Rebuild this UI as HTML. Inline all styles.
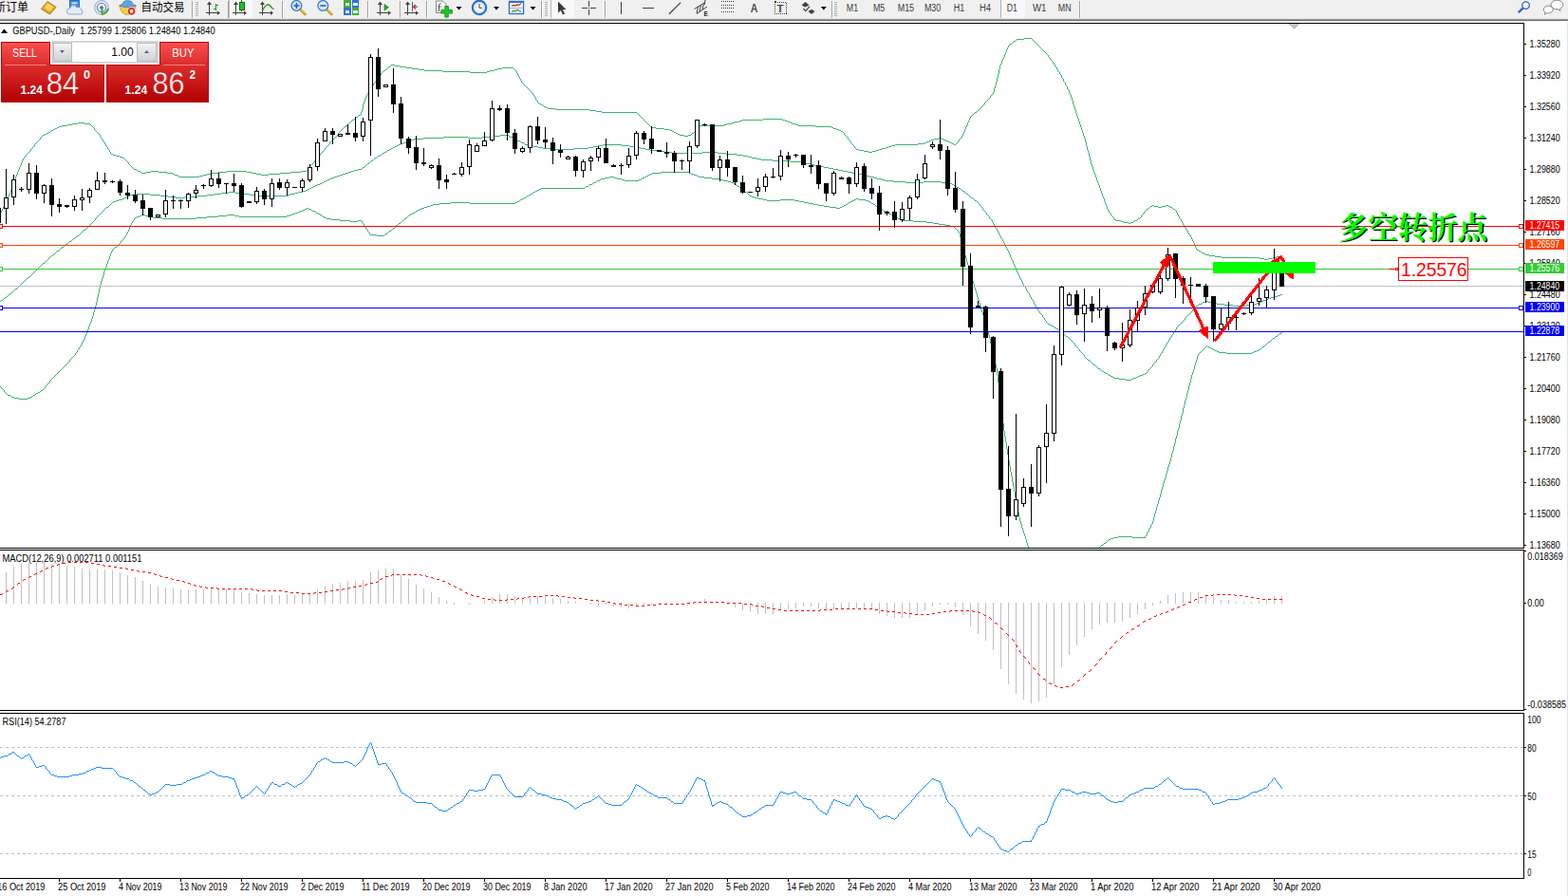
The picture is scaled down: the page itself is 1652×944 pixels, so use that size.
<!DOCTYPE html>
<html><head><meta charset="utf-8"><title>GBPUSD Daily</title>
<style>html,body{margin:0;padding:0;background:#fff;overflow:hidden}body{width:1652px;height:944px;font-family:"Liberation Sans",sans-serif}svg{display:block}</style>
</head><body>
<svg width="1652" height="944" viewBox="0 0 1652 944" font-family="Liberation Sans, sans-serif" shape-rendering="crispEdges">
<defs><clipPath id="cm"><rect x="0" y="25" width="1605" height="552"/></clipPath><clipPath id="cmacd"><rect x="0" y="580" width="1605" height="168"/></clipPath><clipPath id="crsi"><rect x="0" y="752" width="1605" height="173"/></clipPath><clipPath id="call"><rect x="0" y="0" width="1652" height="944"/></clipPath></defs>
<rect x="0" y="0" width="1652" height="944" fill="#fff" />
<rect x="0" y="24" width="1606" height="1" fill="#000" />
<rect x="1605" y="24" width="1" height="554" fill="#000" />
<rect x="0" y="577" width="1606" height="1" fill="#000" />
<rect x="0" y="579" width="1606" height="1" fill="#000" />
<rect x="1605" y="579" width="1" height="170" fill="#000" />
<rect x="0" y="748" width="1606" height="1" fill="#000" />
<rect x="0" y="751" width="1606" height="1" fill="#000" />
<rect x="1605" y="751" width="1" height="175" fill="#000" />
<rect x="0" y="925" width="1606" height="1" fill="#000" />
<rect x="1651" y="22" width="1" height="922" fill="#e3e3e3" />
<g clip-path="url(#cm)">
<polygon points="1357,25 1369,25 1363,31" fill="#c0c0c0"/>
<path d="M-2.5,229v2M-1.5,227v2M0.5,224v3M1.5,222v2M2.5,220v2M3.5,218v2M4.5,216v2M5.5,214v2M6.5,211v3M7.5,209v2M8.5,207v2M9.5,205v2M10.5,203v2M11.5,200v3M12.5,197v3M13.5,194v3M14.5,191v3M15.5,189v2M16.5,186v3M17.5,184v2M18.5,181v3M19.5,179v2M20.5,176v3M21.5,174v2M22.5,171v3M23.5,169v2M24.5,167v2M25.5,166v1M26.5,164v2M27.5,163v1M28.5,162v1M29.5,161v1M30.5,160v1M31.5,159v1M32.5,157v2M33.5,156v1M34.5,155v1M35.5,154v1M36.5,152v2M37.5,151v1M38.5,150v1M39.5,149v1M40.5,148v1M41.5,147v1M42.5,145v2M43.5,144v1M44.5,143v1M45,142.5h2M47,141.5h2M49,140.5h2M51,139.5h2M53.5,138v1M54,137.5h2M56,136.5h2M58,135.5h2M60,134.5h2M62,133.5h3M65,132.5h6M71,131.5h5M76,130.5h6M82,129.5h7M89,130.5h6M95.5,131v1M96.5,132v1M97.5,133v1M98.5,134v1M99.5,135v2M100.5,137v1M101.5,138v1M102.5,139v1M103.5,140v1M104.5,141v1M105.5,142v2M106.5,144v2M107.5,146v1M108.5,147v2M109.5,149v1M110.5,150v2M111.5,152v2M112.5,154v1M113.5,155v2M114.5,157v1M115.5,158v2M116.5,160v2M117,162.5h2M119,163.5h3M122,164.5h4M126,165.5h3M129,166.5h2M131.5,167v1M132.5,168v1M133.5,169v1M134.5,170v1M135.5,171v2M136.5,173v1M137.5,174v1M138.5,175v1M139.5,176v1M140.5,177v1M141,178.5h3M144.5,179v1M145,180.5h3M148.5,181v1M149,182.5h5M154,181.5h5M159,180.5h8M167,181.5h9M176,182.5h6M182,183.5h2M184,184.5h3M187,185.5h2M189,186.5h21M210,185.5h4M214,184.5h4M218,183.5h4M222,182.5h8M230,181.5h9M239,180.5h21M260,181.5h5M265,182.5h5M270,183.5h5M275,184.5h8M283,183.5h12M295,182.5h11M306,181.5h11M317,180.5h6M323.5,179v1M324.5,178v1M325.5,176v2M326.5,175v1M327.5,174v1M328.5,173v1M329.5,172v1M330.5,171v1M331.5,169v2M332.5,168v1M333.5,167v1M334.5,166v1M335.5,165v1M336.5,164v1M337.5,162v2M338.5,161v1M339.5,160v1M340.5,159v1M341.5,158v1M342.5,156v2M343.5,155v1M344.5,154v1M345.5,153v1M346.5,152v1M347.5,150v2M348.5,149v1M349.5,148v1M350.5,147v1M351.5,146v1M352.5,145v1M353.5,144v1M354.5,143v1M355.5,142v1M356.5,140v2M357.5,139v1M358.5,138v1M359.5,137v1M360.5,136v1M361.5,135v1M362.5,134v1M363.5,133v1M364,132.5h2M366.5,131v1M367.5,130v1M368.5,129v1M369.5,128v1M370.5,127v1M371,126.5h2M373.5,125v1M374.5,124v1M375,123.5h2M377.5,122v1M378,121.5h2M380.5,118v3M381.5,115v3M382.5,110v5M383.5,107v3M384.5,104v3M385.5,102v2M386.5,100v2M387.5,98v2M388.5,97v1M389.5,95v2M390.5,93v2M391.5,91v2M392.5,90v1M393.5,88v2M394.5,87v1M395.5,86v1M396.5,84v2M397.5,83v1M398.5,81v2M399.5,80v1M400.5,79v1M401.5,77v2M402.5,76v1M403.5,75v1M404,74.5h2M406.5,73v1M407.5,72v1M408.5,71v1M409,70.5h2M411.5,69v1M412,68.5h4M416,69.5h5M421,70.5h7M428,71.5h6M434,72.5h7M441,73.5h6M447,74.5h19M466,75.5h29M495,76.5h18M513,75.5h3M516,74.5h5M521,73.5h3M524,72.5h5M529,71.5h12M541.5,72v1M542.5,73v1M543.5,74v1M544.5,75v2M545.5,77v2M546.5,79v2M547.5,81v2M548.5,83v2M549.5,85v2M550.5,87v1M551.5,88v1M552.5,89v1M553.5,90v1M554.5,91v1M555.5,92v1M556.5,93v1M557.5,94v1M558.5,95v1M559.5,96v1M560.5,97v1M561.5,98v2M562.5,100v1M563.5,101v2M564.5,103v2M565.5,105v1M566.5,106v2M567.5,108v1M568,109.5h2M570,110.5h2M572.5,111v1M573,112.5h2M575,113.5h2M577,114.5h8M585,115.5h36M621,116.5h7M628,117.5h6M634,118.5h37M671.5,119v1M672.5,120v1M673.5,121v1M674.5,122v1M675.5,123v1M676.5,124v1M677.5,125v1M678.5,126v1M679.5,127v1M680.5,128v1M681.5,129v1M682.5,130v1M683.5,131v1M684.5,132v1M685.5,133v1M686,134.5h5M691,135.5h9M700,136.5h6M706,137.5h2M708,138.5h2M710,139.5h2M712,140.5h2M714,141.5h2M716,142.5h5M721,143.5h4M725,142.5h3M728.5,141v1M729,140.5h2M731.5,139v1M732.5,138v1M733.5,137v1M734.5,135v2M735.5,134v1M736.5,133v1M737,132.5h26M763,131.5h3M766,130.5h5M771,129.5h3M774,128.5h5M779,127.5h3M782,126.5h22M804,125.5h20M824,126.5h3M827,127.5h3M830,128.5h3M833,129.5h2M835,130.5h3M838,131.5h3M841,132.5h18M859,133.5h17M876,134.5h2M878,135.5h3M881,136.5h3M884,137.5h2M886,138.5h2M888.5,139v1M889.5,140v2M890.5,142v1M891.5,143v1M892.5,144v1M893.5,145v2M894.5,147v1M895.5,148v1M896.5,149v2M897.5,151v1M898.5,152v1M899.5,153v1M900.5,154v2M901.5,156v1M902,157.5h3M905,158.5h5M910,159.5h5M915,160.5h4M919,159.5h4M923,158.5h3M926,157.5h3M929,156.5h4M933,155.5h3M936,154.5h3M939,153.5h4M943,152.5h24M967,151.5h7M974,150.5h2M976,149.5h3M979,148.5h2M981,147.5h3M984,146.5h5M989,145.5h3M992,146.5h2M994,147.5h2M996,148.5h3M999,149.5h2M1001,150.5h2M1003,151.5h2M1005,152.5h2M1007.5,151v1M1008.5,150v1M1009.5,149v1M1010.5,147v2M1011.5,146v1M1012.5,145v1M1013.5,143v2M1014.5,141v2M1015.5,139v2M1016.5,136v3M1017.5,134v2M1018.5,132v2M1019.5,129v3M1020.5,127v2M1021.5,125v2M1022.5,123v2M1023.5,122v1M1024.5,121v1M1025.5,120v1M1026.5,119v1M1027,118.5h2M1029.5,117v1M1030.5,116v1M1031.5,115v1M1032.5,114v1M1033.5,113v1M1034.5,112v1M1035.5,111v1M1036.5,110v1M1037.5,108v2M1038.5,107v1M1039.5,106v1M1040.5,105v1M1041.5,104v1M1042.5,103v1M1043.5,101v2M1044.5,100v1M1045.5,99v1M1046.5,97v2M1047.5,93v4M1048.5,90v3M1049.5,86v4M1050.5,82v4M1051.5,78v4M1052.5,73v5M1053.5,69v4M1054.5,67v2M1055.5,64v3M1056.5,62v2M1057.5,60v2M1058.5,57v3M1059.5,55v2M1060.5,52v3M1061.5,50v2M1062.5,48v2M1063.5,47v1M1064,46.5h2M1066.5,45v1M1067.5,44v1M1068,43.5h2M1070.5,42v1M1071,41.5h8M1079,40.5h8M1087.5,41v1M1088.5,42v1M1089.5,43v1M1090.5,44v1M1091.5,45v1M1092.5,46v1M1093.5,47v1M1094.5,48v1M1095.5,49v1M1096.5,50v1M1097.5,51v1M1098.5,52v1M1099.5,53v1M1100.5,54v1M1101.5,55v1M1102.5,56v1M1103.5,57v1M1104.5,58v2M1105.5,60v1M1106.5,61v2M1107.5,63v1M1108.5,64v1M1109.5,65v2M1110.5,67v1M1111.5,68v2M1112.5,70v1M1113.5,71v2M1114.5,73v2M1115.5,75v1M1116.5,76v2M1117.5,78v1M1118.5,79v3M1119.5,82v1M1120.5,83v3M1121.5,86v1M1122.5,87v3M1123.5,90v1M1124.5,91v3M1125.5,94v1M1126.5,95v3M1127.5,98v2M1128.5,100v3M1129.5,103v3M1130.5,106v4M1131.5,110v3M1132.5,113v3M1133.5,116v3M1134.5,119v3M1135.5,122v3M1136.5,125v3M1137.5,128v3M1138.5,131v3M1139.5,134v3M1140.5,137v3M1141.5,140v3M1142.5,143v3M1143.5,146v4M1144.5,150v4M1145.5,154v4M1146.5,158v3M1147.5,161v4M1148.5,165v4M1149.5,169v4M1150.5,173v3M1151.5,176v3M1152.5,179v3M1153.5,182v2M1154.5,184v3M1155.5,187v3M1156.5,190v3M1157.5,193v2M1158.5,195v3M1159.5,198v3M1160.5,201v3M1161.5,204v3M1162.5,207v2M1163.5,209v3M1164.5,212v3M1165.5,215v2M1166.5,217v3M1167.5,220v2M1168.5,222v2M1169.5,224v1M1170.5,225v2M1171.5,227v1M1172.5,228v1M1173.5,229v2M1174,231.5h2M1176,232.5h5M1181,233.5h3M1184,234.5h5M1189,235.5h2M1191,234.5h3M1194.5,233v1M1195,232.5h3M1198.5,231v1M1199,230.5h2M1201.5,229v1M1202.5,227v2M1203.5,226v1M1204.5,225v1M1205.5,223v2M1206.5,222v1M1207.5,221v1M1208,220.5h2M1210.5,219v1M1211.5,218v1M1212,217.5h2M1214,216.5h2M1216,217.5h4M1220,218.5h4M1224,217.5h4M1228,216.5h3M1231,217.5h2M1233,218.5h2M1235.5,219v1M1236,220.5h2M1238.5,221v1M1239.5,222v2M1240.5,224v2M1241.5,226v2M1242.5,228v2M1243.5,230v1M1244.5,231v2M1245.5,233v2M1246.5,235v2M1247.5,237v1M1248.5,238v2M1249.5,240v2M1250.5,242v1M1251.5,243v2M1252.5,245v2M1253.5,247v1M1254.5,248v2M1255.5,250v2M1256.5,252v2M1257.5,254v2M1258.5,256v3M1259.5,259v2M1260.5,261v2M1261,263.5h2M1263,264.5h2M1265.5,265v1M1266,266.5h2M1268,267.5h2M1270,268.5h4M1274,269.5h6M1280,270.5h7M1287,271.5h40M1327,272.5h5M1332,273.5h4M1336,272.5h5M1341,271.5h4M1345,270.5h3" fill="none" stroke="#3cb371" stroke-width="1" />
<path d="M-2,318.5h2M0.5,317v1M1,316.5h2M3.5,315v1M4.5,314v1M5,313.5h2M7.5,312v1M8.5,311v1M9.5,310v1M10,309.5h2M12.5,308v1M13.5,307v1M14.5,306v1M15.5,305v1M16,304.5h2M18.5,303v1M19.5,302v1M20.5,301v1M21.5,300v1M22.5,299v1M23.5,298v1M24.5,297v1M25.5,296v1M26.5,295v1M27.5,294v1M28.5,293v1M29,292.5h2M31.5,291v1M32.5,290v1M33.5,289v1M34.5,288v1M35.5,287v1M36.5,286v1M37.5,285v1M38.5,284v1M39.5,283v1M40.5,282v1M41.5,281v1M42.5,280v1M43.5,279v1M44.5,278v1M45,277.5h2M47.5,276v1M48.5,275v1M49.5,274v1M50.5,273v1M51.5,272v1M52.5,271v1M53.5,270v1M54.5,269v1M55,268.5h2M57.5,267v1M58.5,266v1M59.5,265v1M60,264.5h2M62.5,263v1M63.5,262v1M64.5,261v1M65,260.5h2M67.5,259v1M68.5,258v1M69,257.5h2M71.5,256v1M72.5,255v1M73,254.5h2M75.5,253v1M76.5,252v1M77,251.5h2M79.5,250v1M80.5,249v1M81,248.5h2M83.5,247v1M84.5,246v1M85.5,245v1M86.5,244v1M87.5,243v1M88,242.5h2M90.5,241v1M91.5,240v1M92.5,239v1M93.5,238v1M94.5,237v1M95.5,236v1M96.5,235v1M97.5,234v1M98.5,233v1M99.5,232v1M100.5,230v2M101.5,229v1M102.5,228v1M103.5,227v1M104.5,226v1M105.5,225v1M106.5,224v1M107.5,223v1M108.5,222v1M109.5,221v1M110.5,220v1M111.5,219v1M112,218.5h2M114.5,217v1M115.5,216v1M116.5,215v1M117.5,214v1M118.5,213v1M119,212.5h3M122,211.5h3M125,210.5h4M129,209.5h2M131,208.5h2M133,207.5h2M135,206.5h2M137,205.5h7M144,204.5h14M158,205.5h11M169,206.5h8M177,207.5h8M185,208.5h10M195,207.5h13M208,206.5h10M218,205.5h8M226,204.5h7M233,203.5h8M241,202.5h7M248,203.5h8M256,204.5h7M263,205.5h8M271,206.5h32M303,205.5h3M306,204.5h5M311,203.5h3M314,202.5h5M319,201.5h3M322,200.5h2M324,199.5h2M326,198.5h2M328,197.5h2M330,196.5h2M332,195.5h2M334,194.5h3M337,193.5h2M339,192.5h2M341,191.5h2M343,190.5h2M345,189.5h2M347,188.5h2M349,187.5h3M352,186.5h3M355,185.5h3M358,184.5h3M361,183.5h3M364,182.5h3M367,181.5h3M370,180.5h3M373,179.5h4M377,178.5h4M381.5,177v1M382,176.5h2M384.5,175v1M385.5,174v1M386.5,173v1M387,172.5h2M389.5,171v1M390.5,170v1M391,169.5h2M393.5,168v1M394.5,167v1M395,166.5h2M397.5,165v1M398,164.5h2M400,163.5h2M402.5,162v1M403,161.5h2M405,160.5h2M407.5,159v1M408,158.5h2M410,157.5h2M412,156.5h2M414,155.5h2M416,154.5h2M418,153.5h2M420,152.5h2M422,151.5h3M425,150.5h3M428,149.5h2M430,148.5h3M433,147.5h3M436,146.5h10M446,145.5h21M467,144.5h26M493,145.5h15M508,144.5h9M517,143.5h10M527,142.5h9M536.5,143v1M537,144.5h3M540.5,145v1M541,146.5h3M544.5,147v1M545,148.5h3M548.5,149v1M549,150.5h3M552.5,151v1M553,152.5h4M557,153.5h5M562,154.5h5M567,155.5h5M572,156.5h12M584,157.5h21M605,156.5h15M620,155.5h5M625,154.5h5M630,153.5h5M635,152.5h20M655,153.5h8M663,154.5h7M670,155.5h5M675,156.5h5M680,157.5h5M685,158.5h7M692,159.5h8M700,160.5h8M708,161.5h32M740,160.5h16M756,161.5h9M765,162.5h11M776,163.5h7M783,164.5h5M788,165.5h4M792,166.5h5M797,167.5h5M802,168.5h12M814,169.5h19M833,170.5h12M845,171.5h4M849,172.5h5M854,173.5h4M858,174.5h5M863,175.5h5M868,176.5h5M873,177.5h5M878,178.5h5M883,179.5h5M888,180.5h5M893,181.5h5M898,182.5h5M903,183.5h5M908,184.5h5M913,185.5h3M916,186.5h5M921,187.5h3M924,188.5h5M929,189.5h3M932,190.5h9M941,191.5h13M954,192.5h19M973,191.5h19M992,192.5h9M1001,193.5h2M1003,194.5h2M1005.5,195v1M1006,196.5h2M1008,197.5h2M1010,198.5h2M1012.5,199v1M1013.5,200v1M1014,201.5h2M1016.5,202v1M1017.5,203v1M1018,204.5h2M1020.5,205v1M1021.5,206v1M1022.5,207v1M1023,208.5h2M1025.5,209v1M1026.5,210v1M1027,211.5h2M1029.5,212v1M1030.5,213v1M1031.5,214v1M1032.5,215v2M1033.5,217v1M1034.5,218v1M1035.5,219v2M1036.5,221v1M1037.5,222v1M1038.5,223v1M1039.5,224v2M1040.5,226v1M1041.5,227v1M1042.5,228v2M1043.5,230v1M1044.5,231v1M1045.5,232v2M1046.5,234v2M1047.5,236v2M1048.5,238v2M1049.5,240v1M1050.5,241v2M1051.5,243v2M1052.5,245v2M1053.5,247v2M1054.5,249v2M1055.5,251v1M1056.5,252v2M1057.5,254v2M1058.5,256v2M1059.5,258v2M1060.5,260v2M1061.5,262v2M1062.5,264v2M1063.5,266v2M1064.5,268v3M1065.5,271v2M1066.5,273v2M1067.5,275v3M1068.5,278v2M1069.5,280v2M1070.5,282v3M1071.5,285v2M1072.5,287v2M1073.5,289v2M1074.5,291v2M1075.5,293v2M1076.5,295v2M1077.5,297v2M1078.5,299v2M1079.5,301v1M1080.5,302v2M1081.5,304v2M1082.5,306v2M1083.5,308v1M1084.5,309v2M1085.5,311v2M1086.5,313v2M1087.5,315v1M1088.5,316v2M1089.5,318v2M1090.5,320v2M1091.5,322v2M1092.5,324v1M1093.5,325v2M1094.5,327v1M1095.5,328v2M1096.5,330v1M1097.5,331v1M1098.5,332v2M1099.5,334v1M1100.5,335v2M1101.5,337v1M1102.5,338v2M1103.5,340v1M1104,341.5h2M1106,342.5h2M1108,343.5h2M1110.5,344v1M1111,345.5h2M1113,346.5h2M1115,347.5h2M1117.5,348v1M1118.5,349v1M1119.5,350v1M1120.5,351v1M1121.5,352v1M1122.5,353v1M1123,354.5h2M1125.5,355v1M1126.5,356v1M1127.5,357v1M1128.5,358v1M1129.5,359v1M1130.5,360v1M1131.5,361v1M1132.5,362v2M1133.5,364v1M1134.5,365v1M1135.5,366v1M1136.5,367v1M1137.5,368v2M1138.5,370v1M1139.5,371v1M1140.5,372v1M1141.5,373v1M1142.5,374v2M1143.5,376v1M1144.5,377v1M1145.5,378v1M1146,379.5h2M1148.5,380v1M1149.5,381v1M1150.5,382v1M1151.5,383v1M1152,384.5h2M1154.5,385v1M1155.5,386v1M1156.5,387v1M1157,388.5h2M1159.5,389v1M1160.5,390v1M1161,391.5h2M1163,392.5h2M1165,393.5h2M1167.5,394v1M1168,395.5h2M1170,396.5h2M1172,397.5h2M1174,398.5h5M1179,399.5h7M1186,400.5h6M1192,399.5h2M1194,398.5h3M1197,397.5h2M1199,396.5h2M1201,395.5h3M1204,394.5h2M1206,393.5h2M1208.5,392v1M1209.5,390v2M1210.5,389v1M1211.5,388v1M1212.5,387v1M1213.5,386v1M1214.5,384v2M1215.5,383v1M1216.5,382v1M1217.5,381v1M1218.5,379v2M1219.5,378v1M1220.5,377v1M1221.5,375v2M1222.5,373v2M1223.5,372v1M1224.5,370v2M1225.5,368v2M1226.5,366v2M1227.5,365v1M1228.5,363v2M1229.5,361v2M1230.5,360v1M1231.5,358v2M1232.5,356v2M1233.5,355v1M1234.5,353v2M1235.5,352v1M1236.5,350v2M1237.5,349v1M1238.5,347v2M1239.5,345v2M1240.5,344v1M1241.5,343v1M1242.5,342v1M1243.5,341v1M1244.5,340v1M1245.5,339v1M1246.5,338v1M1247.5,337v1M1248.5,335v2M1249.5,334v1M1250.5,333v1M1251.5,332v1M1252.5,331v1M1253.5,330v1M1254.5,329v1M1255.5,328v1M1256.5,326v2M1257.5,325v1M1258.5,324v1M1259.5,323v1M1260,322.5h2M1262.5,321v1M1263,320.5h3M1266.5,319v1M1267,318.5h3M1270,317.5h3M1273,318.5h5M1278,319.5h4M1282,320.5h8M1290,321.5h9M1299,322.5h14M1313,321.5h9M1322,320.5h2M1324,319.5h3M1327,318.5h2M1329,317.5h2M1331,316.5h3M1334,315.5h2M1336,314.5h3M1339,313.5h3M1342,312.5h4M1346,311.5h3M1349,310.5h2" fill="none" stroke="#3cb371" stroke-width="1" />
<path d="M-2.5,404v1M-1.5,405v2M0.5,407v1M1.5,408v1M2.5,409v1M3.5,410v1M4.5,411v2M5.5,413v1M6.5,414v1M7.5,415v1M8,416.5h3M11.5,417v1M12,418.5h3M15,419.5h5M20,420.5h9M29,419.5h3M32,418.5h2M34.5,417v1M35,416.5h2M37.5,415v1M38,414.5h2M40,413.5h2M42.5,412v1M43,411.5h2M45.5,410v1M46.5,409v1M47.5,408v1M48.5,406v2M49.5,405v1M50.5,404v1M51.5,403v1M52.5,401v2M53.5,400v1M54.5,399v1M55.5,398v1M56.5,397v1M57.5,396v1M58.5,395v1M59.5,394v1M60.5,393v1M61.5,392v1M62.5,391v1M63.5,390v1M64.5,389v1M65.5,388v1M66.5,387v1M67.5,386v1M68.5,385v1M69.5,384v1M70.5,383v1M71.5,382v1M72.5,381v1M73.5,379v2M74.5,378v1M75.5,377v1M76.5,376v1M77.5,375v1M78.5,374v1M79.5,372v2M80.5,371v1M81.5,369v2M82.5,368v1M83.5,366v2M84.5,365v1M85.5,363v2M86.5,361v2M87.5,359v2M88.5,357v2M89.5,354v3M90.5,352v2M91.5,350v2M92.5,347v3M93.5,344v3M94.5,341v3M95.5,339v2M96.5,336v3M97.5,333v3M98.5,329v4M99.5,326v3M100.5,322v4M101.5,318v4M102.5,313v5M103.5,309v4M104.5,304v5M105.5,300v4M106.5,296v4M107.5,293v3M108.5,290v3M109.5,286v4M110.5,283v3M111.5,281v2M112.5,278v3M113.5,275v3M114.5,273v2M115.5,270v3M116.5,267v3M117.5,265v2M118.5,263v2M119.5,262v1M120.5,261v1M121,260.5h2M123.5,259v1M124.5,258v1M125.5,257v1M126.5,256v1M127.5,254v2M128.5,253v1M129.5,252v1M130.5,251v1M131.5,249v2M132.5,248v1M133.5,246v2M134.5,244v2M135.5,242v2M136.5,239v3M137.5,237v2M138.5,235v2M139.5,233v2M140.5,232v1M141.5,230v2M142,229.5h2M144,228.5h3M147,227.5h2M149,226.5h4M153,227.5h3M156,228.5h5M161,229.5h10M171,230.5h36M207,229.5h11M218,228.5h12M230,227.5h9M239,226.5h8M247,227.5h5M252,228.5h50M302,227.5h3M305,226.5h3M308,225.5h3M311,224.5h3M314,223.5h2M316,222.5h3M319,221.5h2M321,220.5h2M323,219.5h2M325,220.5h3M328.5,221v1M329,222.5h3M332.5,223v1M333,224.5h2M335,225.5h2M337,226.5h2M339.5,227v1M340,228.5h2M342,229.5h2M344,230.5h5M349,231.5h9M358,232.5h11M369,233.5h8M377,232.5h4M381.5,233v2M382.5,235v1M383.5,236v2M384.5,238v1M385.5,239v2M386.5,241v1M387.5,242v2M388.5,244v1M389.5,245v2M390,247.5h7M397,248.5h8M405.5,247v1M406,246.5h2M408.5,245v1M409.5,244v1M410,243.5h2M412.5,242v1M413.5,241v1M414,240.5h2M416.5,239v1M417.5,238v1M418.5,237v1M419.5,236v1M420,235.5h2M422.5,234v1M423.5,233v1M424.5,232v1M425.5,231v1M426,230.5h2M428.5,229v1M429.5,228v1M430.5,227v1M431,226.5h2M433,225.5h2M435,224.5h2M437.5,223v1M438,222.5h2M440,221.5h2M442,220.5h2M444,219.5h3M447,218.5h3M450,217.5h3M453,216.5h3M456,215.5h7M463,214.5h12M475,213.5h20M495,214.5h48M543,213.5h2M545,212.5h2M547.5,211v1M548,210.5h2M550,209.5h2M552,208.5h2M554.5,207v1M555,206.5h2M557,205.5h2M559,204.5h2M561.5,203v1M562,202.5h2M564,201.5h2M566,200.5h2M568,199.5h2M570,198.5h46M616.5,197v1M617,196.5h3M620.5,195v1M621,194.5h3M624.5,193v1M625,192.5h3M628.5,191v1M629,190.5h3M632.5,189v1M633,188.5h4M637,187.5h5M642,186.5h5M647,187.5h3M650,188.5h5M655,189.5h3M658,190.5h15M673,189.5h2M675,188.5h2M677,187.5h2M679,186.5h2M681,185.5h2M683,184.5h2M685,183.5h2M687,182.5h9M696,181.5h30M726,182.5h2M728,183.5h3M731,184.5h3M734,185.5h2M736,186.5h6M742,187.5h8M750,188.5h8M758,189.5h4M762,190.5h5M767,191.5h3M770,192.5h3M773.5,193v1M774,194.5h2M776.5,195v1M777,196.5h2M779.5,197v1M780.5,198v1M781.5,199v1M782,200.5h2M784.5,201v1M785,202.5h2M787.5,203v1M788.5,204v1M789.5,205v1M790,206.5h2M792,207.5h3M795,208.5h4M799,209.5h5M804,210.5h4M808,211.5h14M822,210.5h15M837,211.5h5M842,212.5h5M847,213.5h5M852,214.5h5M857,215.5h5M862,216.5h6M868,217.5h6M874,218.5h7M881,219.5h4M885,218.5h2M887,217.5h2M889,216.5h2M891,215.5h2M893.5,214v1M894,213.5h2M896,212.5h2M898,211.5h2M900,210.5h2M902,209.5h3M905,210.5h7M912,211.5h3M915,212.5h2M917.5,213v1M918,214.5h2M920,215.5h2M922.5,216v1M923,217.5h2M925,218.5h2M927.5,219v1M928,220.5h2M930.5,221v1M931,222.5h2M933,223.5h2M935,224.5h2M937,225.5h2M939,226.5h2M941.5,227v1M942,228.5h2M944,229.5h2M946,230.5h2M948,231.5h2M950,232.5h12M962,233.5h14M976,234.5h7M983,235.5h6M989,236.5h7M996,237.5h5M1001,238.5h4M1005.5,239v1M1006.5,240v1M1007.5,241v1M1008.5,242v1M1009.5,243v1M1010.5,244v2M1011.5,246v4M1012.5,250v4M1013.5,254v3M1014.5,257v4M1015.5,261v4M1016.5,265v4M1017.5,269v3M1018.5,272v4M1019.5,276v3M1020.5,279v3M1021.5,282v4M1022.5,286v3M1023.5,289v4M1024.5,293v3M1025.5,296v3M1026.5,299v4M1027.5,303v3M1028.5,306v3M1029.5,309v4M1030.5,313v3M1031.5,316v3M1032.5,319v4M1033.5,323v3M1034.5,326v3M1035.5,329v3M1036.5,332v4M1037.5,336v3M1038.5,339v3M1039.5,342v4M1040.5,346v3M1041.5,349v4M1042.5,353v4M1043.5,357v5M1044.5,362v4M1045.5,366v4M1046.5,370v5M1047.5,375v4M1048.5,379v5M1049.5,384v4M1050.5,388v7M1051.5,395v8M1052.5,403v9M1053.5,412v8M1054.5,420v9M1055.5,429v9M1056.5,438v8M1057.5,446v8M1058.5,454v6M1059.5,460v6M1060.5,466v7M1061.5,473v6M1062.5,479v6M1063.5,485v6M1064.5,491v6M1065.5,497v5M1066.5,502v6M1067.5,508v5M1068.5,513v5M1069.5,518v6M1070.5,524v5M1071.5,529v5M1072.5,534v6M1073.5,540v5M1074.5,545v4M1075.5,549v3M1076.5,552v4M1077.5,556v3M1078.5,559v3M1079.5,562v3M1080.5,565v3M1081.5,568v4M1082.5,572v3M1083.5,575v3M1084.5,578v2M1085.5,580v3M1086.5,583v2M1087.5,585v3M1088.5,588v3M1089.5,591v2M1090.5,593v3M1091.5,596v2M1092.5,598v3M1093.5,601v2M1094.5,603v2M1095.5,605v2M1096.5,607v1M1097.5,608v1M1098.5,609v2M1099.5,611v1M1100.5,612v2M1101.5,614v1M1102.5,615v1M1103.5,616v2M1104.5,618v1M1105.5,619v1M1106.5,620v2M1107.5,622v1M1108.5,623v2M1109.5,625v1M1110.5,626v1M1111.5,627v2M1112.5,629v1M1113.5,630v1M1114.5,631v2M1115.5,633v1M1116.5,634v2M1117.5,636v1M1118.5,637v1M1119.5,638v2M1120.5,640v1M1121.5,639v1M1122.5,637v2M1123.5,636v1M1124.5,635v1M1125.5,633v2M1126.5,632v1M1127.5,631v1M1128.5,630v1M1129.5,628v2M1130.5,627v1M1131.5,626v1M1132.5,624v2M1133.5,623v1M1134.5,622v1M1135.5,621v1M1136.5,619v2M1137.5,618v1M1138.5,617v1M1139.5,615v2M1140.5,614v1M1141.5,613v1M1142.5,612v1M1143.5,610v2M1144.5,609v1M1145.5,608v1M1146.5,606v2M1147.5,605v1M1148.5,603v2M1149.5,600v3M1150.5,597v3M1151.5,595v2M1152.5,592v3M1153.5,589v3M1154.5,586v3M1155.5,584v2M1156.5,581v3M1157.5,578v3M1158.5,576v2M1159.5,575v1M1160,574.5h2M1162.5,573v1M1163,572.5h2M1165.5,571v1M1166.5,570v1M1167.5,569v1M1168,568.5h2M1170,567.5h3M1173,566.5h5M1178,565.5h15M1193,566.5h14M1206.5,565v1M1207.5,564v1M1208.5,561v3M1209.5,560v1M1210.5,557v3M1211.5,556v1M1212.5,553v3M1213.5,552v1M1214.5,549v3M1215.5,545v4M1216.5,541v4M1217.5,538v3M1218.5,534v4M1219.5,531v3M1220.5,527v4M1221.5,524v3M1222.5,520v4M1223.5,516v4M1224.5,513v3M1225.5,509v4M1226.5,506v3M1227.5,503v3M1228.5,499v4M1229.5,496v3M1230.5,492v4M1231.5,489v3M1232.5,486v3M1233.5,482v4M1234.5,478v4M1235.5,475v3M1236.5,470v5M1237.5,467v3M1238.5,462v5M1239.5,459v3M1240.5,454v5M1241.5,451v3M1242.5,446v5M1243.5,443v3M1244.5,438v5M1245.5,435v3M1246.5,430v5M1247.5,427v3M1248.5,422v5M1249.5,419v3M1250.5,414v5M1251.5,411v3M1252.5,406v5M1253.5,403v3M1254.5,399v4M1255.5,395v4M1256.5,392v3M1257.5,389v3M1258.5,385v4M1259.5,382v3M1260.5,379v3M1261.5,375v4M1262.5,373v2M1263.5,372v1M1264.5,371v1M1265.5,370v1M1266.5,369v1M1267.5,368v1M1268.5,367v1M1269.5,366v1M1270.5,365v1M1271.5,364v1M1272,365.5h2M1274,366.5h2M1276,367.5h2M1278,368.5h2M1280,369.5h2M1282,370.5h2M1284,371.5h8M1292,372.5h27M1319,371.5h2M1321,370.5h3M1324,369.5h2M1326,368.5h2M1328.5,367v1M1329.5,366v1M1330,365.5h2M1332.5,364v1M1333.5,363v1M1334.5,362v1M1335.5,361v1M1336,360.5h2M1338.5,359v1M1339.5,358v1M1340.5,357v1M1341,356.5h2M1343.5,355v1M1344,354.5h2M1346.5,353v1M1347.5,352v1M1348,351.5h2M1350.5,350v1" fill="none" stroke="#3cb371" stroke-width="1" />
<rect x="0" y="238" width="1605" height="1" fill="#ff0000" />
<rect x="-2" y="236" width="5" height="5" fill="#ff0000" />
<rect x="-1" y="237" width="3" height="3" fill="#fff" />
<rect x="1600" y="236" width="5" height="5" fill="#ff0000" />
<rect x="1601" y="237" width="3" height="3" fill="#fff" />
<rect x="0" y="258" width="1605" height="1" fill="#ff4500" />
<rect x="-2" y="256" width="5" height="5" fill="#ff4500" />
<rect x="-1" y="257" width="3" height="3" fill="#fff" />
<rect x="1600" y="256" width="5" height="5" fill="#ff4500" />
<rect x="1601" y="257" width="3" height="3" fill="#fff" />
<rect x="0" y="283" width="1605" height="1" fill="#32cd32" />
<rect x="-2" y="281" width="5" height="5" fill="#32cd32" />
<rect x="-1" y="282" width="3" height="3" fill="#fff" />
<rect x="1600" y="281" width="5" height="5" fill="#32cd32" />
<rect x="1601" y="282" width="3" height="3" fill="#fff" />
<rect x="0" y="301" width="1605" height="1" fill="#c0c0c0" />
<rect x="0" y="324" width="1605" height="1" fill="#0000ff" />
<rect x="-2" y="322" width="5" height="5" fill="#0000ff" />
<rect x="-1" y="323" width="3" height="3" fill="#fff" />
<rect x="1600" y="322" width="5" height="5" fill="#0000ff" />
<rect x="1601" y="323" width="3" height="3" fill="#fff" />
<rect x="0" y="349" width="1605" height="1" fill="#0000ff" />
<rect x="-2" y="218" width="1" height="18" fill="#000" />
<rect x="-4" y="219" width="5" height="16" fill="#000" />
<rect x="6" y="178" width="1" height="58" fill="#000" />
<rect x="4" y="208" width="5" height="12" fill="#000" />
<rect x="5" y="209" width="3" height="10" fill="#fff" />
<rect x="14" y="184" width="1" height="32" fill="#000" />
<rect x="12" y="189" width="5" height="19" fill="#000" />
<rect x="13" y="190" width="3" height="17" fill="#fff" />
<rect x="22" y="197" width="1" height="5" fill="#000" />
<rect x="20" y="199" width="5" height="1" fill="#000" />
<rect x="30" y="172" width="1" height="32" fill="#000" />
<rect x="28" y="182" width="5" height="18" fill="#000" />
<rect x="29" y="183" width="3" height="16" fill="#fff" />
<rect x="38" y="174" width="1" height="36" fill="#000" />
<rect x="36" y="182" width="5" height="22" fill="#000" />
<rect x="46" y="194" width="1" height="20" fill="#000" />
<rect x="44" y="195" width="5" height="9" fill="#000" />
<rect x="45" y="196" width="3" height="7" fill="#fff" />
<rect x="54" y="188" width="1" height="40" fill="#000" />
<rect x="52" y="195" width="5" height="21" fill="#000" />
<rect x="62" y="209" width="1" height="15" fill="#000" />
<rect x="60" y="215" width="5" height="3" fill="#000" />
<rect x="70" y="216" width="1" height="3" fill="#000" />
<rect x="68" y="216" width="5" height="2" fill="#000" />
<rect x="78" y="206" width="1" height="16" fill="#000" />
<rect x="76" y="210" width="5" height="8" fill="#000" />
<rect x="77" y="211" width="3" height="6" fill="#fff" />
<rect x="86" y="199" width="1" height="23" fill="#000" />
<rect x="84" y="208" width="5" height="3" fill="#000" />
<rect x="85" y="209" width="3" height="1" fill="#fff" />
<rect x="94" y="198" width="1" height="16" fill="#000" />
<rect x="92" y="200" width="5" height="8" fill="#000" />
<rect x="93" y="201" width="3" height="6" fill="#fff" />
<rect x="102" y="181" width="1" height="19" fill="#000" />
<rect x="100" y="190" width="5" height="10" fill="#000" />
<rect x="101" y="191" width="3" height="8" fill="#fff" />
<rect x="110" y="182" width="1" height="12" fill="#000" />
<rect x="108" y="190" width="5" height="2" fill="#000" />
<rect x="118" y="190" width="1" height="3" fill="#000" />
<rect x="116" y="191" width="5" height="1" fill="#000" />
<rect x="126" y="189" width="1" height="17" fill="#000" />
<rect x="124" y="191" width="5" height="12" fill="#000" />
<rect x="134" y="195" width="1" height="15" fill="#000" />
<rect x="132" y="203" width="5" height="3" fill="#000" />
<rect x="142" y="200" width="1" height="14" fill="#000" />
<rect x="140" y="205" width="5" height="7" fill="#000" />
<rect x="150" y="205" width="1" height="22" fill="#000" />
<rect x="148" y="211" width="5" height="9" fill="#000" />
<rect x="158" y="219" width="1" height="13" fill="#000" />
<rect x="156" y="219" width="5" height="10" fill="#000" />
<rect x="166" y="226" width="1" height="2" fill="#000" />
<rect x="164" y="226" width="5" height="3" fill="#000" />
<rect x="165" y="227" width="3" height="1" fill="#fff" />
<rect x="174" y="200" width="1" height="29" fill="#000" />
<rect x="172" y="211" width="5" height="15" fill="#000" />
<rect x="173" y="212" width="3" height="13" fill="#fff" />
<rect x="182" y="206" width="1" height="14" fill="#000" />
<rect x="180" y="211" width="5" height="1" fill="#000" />
<rect x="190" y="210" width="1" height="10" fill="#000" />
<rect x="188" y="211" width="5" height="1" fill="#000" />
<rect x="198" y="203" width="1" height="16" fill="#000" />
<rect x="196" y="204" width="5" height="8" fill="#000" />
<rect x="197" y="205" width="3" height="6" fill="#fff" />
<rect x="206" y="195" width="1" height="14" fill="#000" />
<rect x="204" y="200" width="5" height="4" fill="#000" />
<rect x="205" y="201" width="3" height="2" fill="#fff" />
<rect x="214" y="194" width="1" height="5" fill="#000" />
<rect x="212" y="195" width="5" height="1" fill="#000" />
<rect x="222" y="179" width="1" height="18" fill="#000" />
<rect x="220" y="188" width="5" height="8" fill="#000" />
<rect x="221" y="189" width="3" height="6" fill="#fff" />
<rect x="230" y="182" width="1" height="16" fill="#000" />
<rect x="228" y="188" width="5" height="6" fill="#000" />
<rect x="238" y="193" width="1" height="11" fill="#000" />
<rect x="236" y="193" width="5" height="1" fill="#000" />
<rect x="246" y="183" width="1" height="19" fill="#000" />
<rect x="244" y="193" width="5" height="3" fill="#000" />
<rect x="254" y="193" width="1" height="26" fill="#000" />
<rect x="252" y="195" width="5" height="23" fill="#000" />
<rect x="262" y="212" width="1" height="2" fill="#000" />
<rect x="260" y="212" width="5" height="2" fill="#000" />
<rect x="270" y="197" width="1" height="18" fill="#000" />
<rect x="268" y="201" width="5" height="12" fill="#000" />
<rect x="269" y="202" width="3" height="10" fill="#fff" />
<rect x="278" y="199" width="1" height="17" fill="#000" />
<rect x="276" y="201" width="5" height="9" fill="#000" />
<rect x="286" y="188" width="1" height="30" fill="#000" />
<rect x="284" y="193" width="5" height="17" fill="#000" />
<rect x="285" y="194" width="3" height="15" fill="#fff" />
<rect x="294" y="188" width="1" height="12" fill="#000" />
<rect x="292" y="192" width="5" height="6" fill="#000" />
<rect x="302" y="189" width="1" height="17" fill="#000" />
<rect x="300" y="192" width="5" height="6" fill="#000" />
<rect x="301" y="193" width="3" height="4" fill="#fff" />
<rect x="310" y="197" width="1" height="1" fill="#000" />
<rect x="308" y="197" width="5" height="1" fill="#000" />
<rect x="318" y="188" width="1" height="14" fill="#000" />
<rect x="316" y="190" width="5" height="8" fill="#000" />
<rect x="317" y="191" width="3" height="6" fill="#fff" />
<rect x="326" y="173" width="1" height="19" fill="#000" />
<rect x="324" y="176" width="5" height="14" fill="#000" />
<rect x="325" y="177" width="3" height="12" fill="#fff" />
<rect x="334" y="146" width="1" height="34" fill="#000" />
<rect x="332" y="150" width="5" height="26" fill="#000" />
<rect x="333" y="151" width="3" height="24" fill="#fff" />
<rect x="342" y="135" width="1" height="14" fill="#000" />
<rect x="340" y="138" width="5" height="11" fill="#000" />
<rect x="341" y="139" width="3" height="9" fill="#fff" />
<rect x="350" y="135" width="1" height="17" fill="#000" />
<rect x="348" y="138" width="5" height="4" fill="#000" />
<rect x="358" y="141" width="1" height="3" fill="#000" />
<rect x="356" y="141" width="5" height="3" fill="#000" />
<rect x="357" y="142" width="3" height="1" fill="#fff" />
<rect x="366" y="131" width="1" height="11" fill="#000" />
<rect x="364" y="140" width="5" height="2" fill="#000" />
<rect x="374" y="123" width="1" height="26" fill="#000" />
<rect x="372" y="140" width="5" height="5" fill="#000" />
<rect x="382" y="124" width="1" height="25" fill="#000" />
<rect x="380" y="128" width="5" height="16" fill="#000" />
<rect x="381" y="129" width="3" height="14" fill="#fff" />
<rect x="390" y="57" width="1" height="107" fill="#000" />
<rect x="388" y="60" width="5" height="67" fill="#000" />
<rect x="389" y="61" width="3" height="65" fill="#fff" />
<rect x="398" y="51" width="1" height="51" fill="#000" />
<rect x="396" y="60" width="5" height="34" fill="#000" />
<rect x="406" y="89" width="1" height="3" fill="#000" />
<rect x="404" y="89" width="5" height="3" fill="#000" />
<rect x="405" y="90" width="3" height="1" fill="#fff" />
<rect x="414" y="72" width="1" height="47" fill="#000" />
<rect x="412" y="89" width="5" height="21" fill="#000" />
<rect x="422" y="102" width="1" height="50" fill="#000" />
<rect x="420" y="109" width="5" height="37" fill="#000" />
<rect x="430" y="144" width="1" height="18" fill="#000" />
<rect x="428" y="146" width="5" height="10" fill="#000" />
<rect x="438" y="143" width="1" height="36" fill="#000" />
<rect x="436" y="155" width="5" height="17" fill="#000" />
<rect x="446" y="156" width="1" height="19" fill="#000" />
<rect x="444" y="171" width="5" height="2" fill="#000" />
<rect x="454" y="173" width="1" height="5" fill="#000" />
<rect x="452" y="174" width="5" height="3" fill="#000" />
<rect x="453" y="175" width="3" height="1" fill="#fff" />
<rect x="462" y="167" width="1" height="32" fill="#000" />
<rect x="460" y="174" width="5" height="16" fill="#000" />
<rect x="470" y="184" width="1" height="15" fill="#000" />
<rect x="468" y="189" width="5" height="3" fill="#000" />
<rect x="478" y="182" width="1" height="2" fill="#000" />
<rect x="476" y="183" width="5" height="1" fill="#000" />
<rect x="486" y="171" width="1" height="15" fill="#000" />
<rect x="484" y="176" width="5" height="8" fill="#000" />
<rect x="485" y="177" width="3" height="6" fill="#fff" />
<rect x="494" y="147" width="1" height="37" fill="#000" />
<rect x="492" y="152" width="5" height="24" fill="#000" />
<rect x="493" y="153" width="3" height="22" fill="#fff" />
<rect x="502" y="151" width="1" height="9" fill="#000" />
<rect x="500" y="153" width="5" height="7" fill="#000" />
<rect x="501" y="154" width="3" height="5" fill="#fff" />
<rect x="510" y="139" width="1" height="15" fill="#000" />
<rect x="508" y="148" width="5" height="6" fill="#000" />
<rect x="509" y="149" width="3" height="4" fill="#fff" />
<rect x="518" y="106" width="1" height="43" fill="#000" />
<rect x="516" y="114" width="5" height="34" fill="#000" />
<rect x="517" y="115" width="3" height="32" fill="#fff" />
<rect x="526" y="111" width="1" height="6" fill="#000" />
<rect x="524" y="114" width="5" height="2" fill="#000" />
<rect x="534" y="110" width="1" height="38" fill="#000" />
<rect x="532" y="114" width="5" height="26" fill="#000" />
<rect x="542" y="136" width="1" height="26" fill="#000" />
<rect x="540" y="140" width="5" height="17" fill="#000" />
<rect x="550" y="154" width="1" height="7" fill="#000" />
<rect x="548" y="156" width="5" height="4" fill="#000" />
<rect x="549" y="157" width="3" height="2" fill="#fff" />
<rect x="558" y="132" width="1" height="29" fill="#000" />
<rect x="556" y="133" width="5" height="23" fill="#000" />
<rect x="557" y="134" width="3" height="21" fill="#fff" />
<rect x="566" y="123" width="1" height="29" fill="#000" />
<rect x="564" y="133" width="5" height="15" fill="#000" />
<rect x="574" y="134" width="1" height="22" fill="#000" />
<rect x="572" y="147" width="5" height="3" fill="#000" />
<rect x="582" y="145" width="1" height="28" fill="#000" />
<rect x="580" y="150" width="5" height="9" fill="#000" />
<rect x="590" y="152" width="1" height="14" fill="#000" />
<rect x="588" y="158" width="5" height="3" fill="#000" />
<rect x="598" y="164" width="1" height="4" fill="#000" />
<rect x="596" y="165" width="5" height="3" fill="#000" />
<rect x="597" y="166" width="3" height="1" fill="#fff" />
<rect x="606" y="164" width="1" height="22" fill="#000" />
<rect x="604" y="165" width="5" height="15" fill="#000" />
<rect x="614" y="168" width="1" height="19" fill="#000" />
<rect x="612" y="170" width="5" height="10" fill="#000" />
<rect x="613" y="171" width="3" height="8" fill="#fff" />
<rect x="622" y="164" width="1" height="16" fill="#000" />
<rect x="620" y="166" width="5" height="4" fill="#000" />
<rect x="621" y="167" width="3" height="2" fill="#fff" />
<rect x="630" y="154" width="1" height="16" fill="#000" />
<rect x="628" y="156" width="5" height="10" fill="#000" />
<rect x="629" y="157" width="3" height="8" fill="#fff" />
<rect x="638" y="146" width="1" height="26" fill="#000" />
<rect x="636" y="156" width="5" height="16" fill="#000" />
<rect x="646" y="173" width="1" height="3" fill="#000" />
<rect x="644" y="174" width="5" height="2" fill="#000" />
<rect x="654" y="172" width="1" height="12" fill="#000" />
<rect x="652" y="174" width="5" height="1" fill="#000" />
<rect x="662" y="156" width="1" height="21" fill="#000" />
<rect x="660" y="164" width="5" height="10" fill="#000" />
<rect x="661" y="165" width="3" height="8" fill="#fff" />
<rect x="670" y="138" width="1" height="30" fill="#000" />
<rect x="668" y="140" width="5" height="24" fill="#000" />
<rect x="669" y="141" width="3" height="22" fill="#fff" />
<rect x="678" y="138" width="1" height="14" fill="#000" />
<rect x="676" y="140" width="5" height="7" fill="#000" />
<rect x="686" y="133" width="1" height="29" fill="#000" />
<rect x="684" y="146" width="5" height="11" fill="#000" />
<rect x="694" y="158" width="1" height="2" fill="#000" />
<rect x="692" y="158" width="5" height="2" fill="#000" />
<rect x="702" y="150" width="1" height="16" fill="#000" />
<rect x="700" y="160" width="5" height="2" fill="#000" />
<rect x="710" y="159" width="1" height="23" fill="#000" />
<rect x="708" y="161" width="5" height="9" fill="#000" />
<rect x="718" y="168" width="1" height="11" fill="#000" />
<rect x="716" y="169" width="5" height="1" fill="#000" />
<rect x="726" y="149" width="1" height="33" fill="#000" />
<rect x="724" y="154" width="5" height="16" fill="#000" />
<rect x="725" y="155" width="3" height="14" fill="#fff" />
<rect x="734" y="126" width="1" height="30" fill="#000" />
<rect x="732" y="126" width="5" height="28" fill="#000" />
<rect x="733" y="127" width="3" height="26" fill="#fff" />
<rect x="742" y="130" width="1" height="3" fill="#000" />
<rect x="740" y="131" width="5" height="1" fill="#000" />
<rect x="750" y="131" width="1" height="49" fill="#000" />
<rect x="748" y="131" width="5" height="46" fill="#000" />
<rect x="758" y="164" width="1" height="27" fill="#000" />
<rect x="756" y="168" width="5" height="9" fill="#000" />
<rect x="757" y="169" width="3" height="7" fill="#fff" />
<rect x="766" y="159" width="1" height="27" fill="#000" />
<rect x="764" y="168" width="5" height="9" fill="#000" />
<rect x="774" y="176" width="1" height="19" fill="#000" />
<rect x="772" y="176" width="5" height="16" fill="#000" />
<rect x="782" y="185" width="1" height="19" fill="#000" />
<rect x="780" y="192" width="5" height="11" fill="#000" />
<rect x="790" y="202" width="1" height="1" fill="#000" />
<rect x="788" y="202" width="5" height="1" fill="#000" />
<rect x="798" y="188" width="1" height="19" fill="#000" />
<rect x="796" y="197" width="5" height="5" fill="#000" />
<rect x="797" y="198" width="3" height="3" fill="#fff" />
<rect x="806" y="183" width="1" height="19" fill="#000" />
<rect x="804" y="186" width="5" height="11" fill="#000" />
<rect x="805" y="187" width="3" height="9" fill="#fff" />
<rect x="814" y="177" width="1" height="11" fill="#000" />
<rect x="812" y="186" width="5" height="1" fill="#000" />
<rect x="822" y="158" width="1" height="32" fill="#000" />
<rect x="820" y="164" width="5" height="22" fill="#000" />
<rect x="821" y="165" width="3" height="20" fill="#fff" />
<rect x="830" y="160" width="1" height="16" fill="#000" />
<rect x="828" y="164" width="5" height="4" fill="#000" />
<rect x="838" y="162" width="1" height="4" fill="#000" />
<rect x="836" y="163" width="5" height="1" fill="#000" />
<rect x="846" y="163" width="1" height="14" fill="#000" />
<rect x="844" y="163" width="5" height="11" fill="#000" />
<rect x="854" y="163" width="1" height="20" fill="#000" />
<rect x="852" y="174" width="5" height="2" fill="#000" />
<rect x="862" y="169" width="1" height="30" fill="#000" />
<rect x="860" y="174" width="5" height="20" fill="#000" />
<rect x="870" y="193" width="1" height="19" fill="#000" />
<rect x="868" y="193" width="5" height="11" fill="#000" />
<rect x="878" y="180" width="1" height="26" fill="#000" />
<rect x="876" y="182" width="5" height="22" fill="#000" />
<rect x="877" y="183" width="3" height="20" fill="#fff" />
<rect x="886" y="186" width="1" height="3" fill="#000" />
<rect x="884" y="187" width="5" height="2" fill="#000" />
<rect x="894" y="186" width="1" height="18" fill="#000" />
<rect x="892" y="187" width="5" height="7" fill="#000" />
<rect x="902" y="171" width="1" height="26" fill="#000" />
<rect x="900" y="176" width="5" height="18" fill="#000" />
<rect x="901" y="177" width="3" height="16" fill="#fff" />
<rect x="910" y="172" width="1" height="30" fill="#000" />
<rect x="908" y="175" width="5" height="24" fill="#000" />
<rect x="918" y="188" width="1" height="22" fill="#000" />
<rect x="916" y="198" width="5" height="6" fill="#000" />
<rect x="926" y="196" width="1" height="47" fill="#000" />
<rect x="924" y="203" width="5" height="23" fill="#000" />
<rect x="934" y="222" width="1" height="5" fill="#000" />
<rect x="932" y="223" width="5" height="2" fill="#000" />
<rect x="942" y="212" width="1" height="28" fill="#000" />
<rect x="940" y="223" width="5" height="9" fill="#000" />
<rect x="950" y="213" width="1" height="21" fill="#000" />
<rect x="948" y="220" width="5" height="12" fill="#000" />
<rect x="949" y="221" width="3" height="10" fill="#fff" />
<rect x="958" y="206" width="1" height="26" fill="#000" />
<rect x="956" y="208" width="5" height="12" fill="#000" />
<rect x="957" y="209" width="3" height="10" fill="#fff" />
<rect x="966" y="183" width="1" height="27" fill="#000" />
<rect x="964" y="189" width="5" height="19" fill="#000" />
<rect x="965" y="190" width="3" height="17" fill="#fff" />
<rect x="974" y="163" width="1" height="26" fill="#000" />
<rect x="972" y="172" width="5" height="16" fill="#000" />
<rect x="973" y="173" width="3" height="14" fill="#fff" />
<rect x="982" y="149" width="1" height="8" fill="#000" />
<rect x="980" y="152" width="5" height="3" fill="#000" />
<rect x="981" y="153" width="3" height="1" fill="#fff" />
<rect x="990" y="126" width="1" height="42" fill="#000" />
<rect x="988" y="152" width="5" height="7" fill="#000" />
<rect x="998" y="154" width="1" height="52" fill="#000" />
<rect x="996" y="158" width="5" height="41" fill="#000" />
<rect x="1006" y="181" width="1" height="43" fill="#000" />
<rect x="1004" y="198" width="5" height="23" fill="#000" />
<rect x="1014" y="212" width="1" height="89" fill="#000" />
<rect x="1012" y="220" width="5" height="61" fill="#000" />
<rect x="1022" y="267" width="1" height="85" fill="#000" />
<rect x="1020" y="280" width="5" height="65" fill="#000" />
<rect x="1030" y="317" width="1" height="7" fill="#000" />
<rect x="1028" y="322" width="5" height="2" fill="#000" />
<rect x="1038" y="322" width="1" height="49" fill="#000" />
<rect x="1036" y="323" width="5" height="33" fill="#000" />
<rect x="1046" y="354" width="1" height="66" fill="#000" />
<rect x="1044" y="355" width="5" height="37" fill="#000" />
<rect x="1054" y="388" width="1" height="167" fill="#000" />
<rect x="1052" y="391" width="5" height="125" fill="#000" />
<rect x="1062" y="470" width="1" height="95" fill="#000" />
<rect x="1060" y="515" width="5" height="29" fill="#000" />
<rect x="1070" y="436" width="1" height="112" fill="#000" />
<rect x="1068" y="526" width="5" height="18" fill="#000" />
<rect x="1069" y="527" width="3" height="16" fill="#fff" />
<rect x="1078" y="504" width="1" height="30" fill="#000" />
<rect x="1076" y="513" width="5" height="18" fill="#000" />
<rect x="1077" y="514" width="3" height="16" fill="#fff" />
<rect x="1086" y="489" width="1" height="66" fill="#000" />
<rect x="1084" y="513" width="5" height="7" fill="#000" />
<rect x="1094" y="469" width="1" height="54" fill="#000" />
<rect x="1092" y="471" width="5" height="49" fill="#000" />
<rect x="1093" y="472" width="3" height="47" fill="#fff" />
<rect x="1102" y="426" width="1" height="83" fill="#000" />
<rect x="1100" y="456" width="5" height="15" fill="#000" />
<rect x="1101" y="457" width="3" height="13" fill="#fff" />
<rect x="1110" y="364" width="1" height="101" fill="#000" />
<rect x="1108" y="373" width="5" height="84" fill="#000" />
<rect x="1109" y="374" width="3" height="82" fill="#fff" />
<rect x="1118" y="301" width="1" height="84" fill="#000" />
<rect x="1116" y="302" width="5" height="72" fill="#000" />
<rect x="1117" y="303" width="3" height="70" fill="#fff" />
<rect x="1126" y="308" width="1" height="15" fill="#000" />
<rect x="1124" y="310" width="5" height="12" fill="#000" />
<rect x="1125" y="311" width="3" height="10" fill="#fff" />
<rect x="1134" y="306" width="1" height="36" fill="#000" />
<rect x="1132" y="310" width="5" height="22" fill="#000" />
<rect x="1142" y="304" width="1" height="56" fill="#000" />
<rect x="1140" y="321" width="5" height="10" fill="#000" />
<rect x="1141" y="322" width="3" height="8" fill="#fff" />
<rect x="1150" y="312" width="1" height="28" fill="#000" />
<rect x="1148" y="320" width="5" height="8" fill="#000" />
<rect x="1158" y="304" width="1" height="31" fill="#000" />
<rect x="1156" y="324" width="5" height="3" fill="#000" />
<rect x="1157" y="325" width="3" height="1" fill="#fff" />
<rect x="1166" y="322" width="1" height="48" fill="#000" />
<rect x="1164" y="324" width="5" height="30" fill="#000" />
<rect x="1174" y="360" width="1" height="9" fill="#000" />
<rect x="1172" y="361" width="5" height="6" fill="#000" />
<rect x="1182" y="340" width="1" height="41" fill="#000" />
<rect x="1180" y="363" width="5" height="4" fill="#000" />
<rect x="1181" y="364" width="3" height="2" fill="#fff" />
<rect x="1190" y="326" width="1" height="40" fill="#000" />
<rect x="1188" y="337" width="5" height="27" fill="#000" />
<rect x="1189" y="338" width="3" height="25" fill="#fff" />
<rect x="1198" y="317" width="1" height="33" fill="#000" />
<rect x="1196" y="324" width="5" height="14" fill="#000" />
<rect x="1197" y="325" width="3" height="12" fill="#fff" />
<rect x="1206" y="301" width="1" height="31" fill="#000" />
<rect x="1204" y="309" width="5" height="15" fill="#000" />
<rect x="1205" y="310" width="3" height="13" fill="#fff" />
<rect x="1214" y="298" width="1" height="11" fill="#000" />
<rect x="1212" y="300" width="5" height="8" fill="#000" />
<rect x="1213" y="301" width="3" height="6" fill="#fff" />
<rect x="1222" y="290" width="1" height="20" fill="#000" />
<rect x="1220" y="293" width="5" height="15" fill="#000" />
<rect x="1221" y="294" width="3" height="13" fill="#fff" />
<rect x="1230" y="261" width="1" height="35" fill="#000" />
<rect x="1228" y="268" width="5" height="26" fill="#000" />
<rect x="1229" y="269" width="3" height="24" fill="#fff" />
<rect x="1238" y="267" width="1" height="47" fill="#000" />
<rect x="1236" y="267" width="5" height="27" fill="#000" />
<rect x="1246" y="291" width="1" height="29" fill="#000" />
<rect x="1244" y="293" width="5" height="8" fill="#000" />
<rect x="1254" y="292" width="1" height="28" fill="#000" />
<rect x="1252" y="300" width="5" height="1" fill="#000" />
<rect x="1262" y="299" width="1" height="3" fill="#000" />
<rect x="1260" y="299" width="5" height="3" fill="#000" />
<rect x="1270" y="299" width="1" height="20" fill="#000" />
<rect x="1268" y="301" width="5" height="12" fill="#000" />
<rect x="1278" y="312" width="1" height="48" fill="#000" />
<rect x="1276" y="312" width="5" height="35" fill="#000" />
<rect x="1286" y="325" width="1" height="23" fill="#000" />
<rect x="1284" y="341" width="5" height="6" fill="#000" />
<rect x="1285" y="342" width="3" height="4" fill="#fff" />
<rect x="1294" y="318" width="1" height="30" fill="#000" />
<rect x="1292" y="334" width="5" height="7" fill="#000" />
<rect x="1293" y="335" width="3" height="5" fill="#fff" />
<rect x="1302" y="328" width="1" height="20" fill="#000" />
<rect x="1300" y="334" width="5" height="1" fill="#000" />
<rect x="1310" y="329" width="1" height="3" fill="#000" />
<rect x="1308" y="330" width="5" height="1" fill="#000" />
<rect x="1318" y="311" width="1" height="21" fill="#000" />
<rect x="1316" y="318" width="5" height="12" fill="#000" />
<rect x="1317" y="319" width="3" height="10" fill="#fff" />
<rect x="1326" y="293" width="1" height="29" fill="#000" />
<rect x="1324" y="314" width="5" height="4" fill="#000" />
<rect x="1325" y="315" width="3" height="2" fill="#fff" />
<rect x="1334" y="301" width="1" height="23" fill="#000" />
<rect x="1332" y="305" width="5" height="9" fill="#000" />
<rect x="1333" y="306" width="3" height="7" fill="#fff" />
<rect x="1342" y="262" width="1" height="54" fill="#000" />
<rect x="1340" y="285" width="5" height="21" fill="#000" />
<rect x="1341" y="286" width="3" height="19" fill="#fff" />
<rect x="1350" y="277" width="1" height="25" fill="#000" />
<rect x="1348" y="278" width="5" height="24" fill="#000" />
<line x1="1180.3" y1="366.0" x2="1227.7" y2="276.9" stroke="#ff0000" stroke-width="3.2"/>
<polygon points="1231.6,269.6 1230.5,280.6 1223.1,276.7" fill="#ff0000" stroke="#ff0000" stroke-width="2" stroke-linejoin="round"/>
<line x1="1232.2" y1="268.5" x2="1269.0" y2="348.4" stroke="#ff0000" stroke-width="3.2"/>
<polygon points="1272.5,355.9 1264.4,348.3 1272.0,344.8" fill="#ff0000" stroke="#ff0000" stroke-width="2" stroke-linejoin="round"/>
<line x1="1279.5" y1="359.5" x2="1342.7" y2="278.0" stroke="#ff0000" stroke-width="3.2"/>
<polygon points="1347.8,271.4 1344.8,282.2 1338.1,277.0" fill="#ff0000" stroke="#ff0000" stroke-width="2" stroke-linejoin="round"/>
<line x1="1349.0" y1="269.5" x2="1358.4" y2="286.2" stroke="#ff0000" stroke-width="3.2"/>
<polygon points="1362.4,293.5 1353.5,286.6 1361.2,282.3" fill="#ff0000" stroke="#ff0000" stroke-width="2" stroke-linejoin="round"/>
<rect x="1278" y="276" width="108" height="12" fill="#00ff00" />
</g>
<text x="1410" y="250.5" font-size="32" font-weight="bold" font-family="Liberation Serif, Noto Serif CJK SC, serif" fill="#000" textLength="157" lengthAdjust="spacingAndGlyphs" transform="translate(1.3,1.3)" shape-rendering="auto">多空转折点</text>
<text x="1410" y="250.5" font-size="32" font-weight="bold" font-family="Liberation Serif, Noto Serif CJK SC, serif" fill="#00ff00" textLength="157" lengthAdjust="spacingAndGlyphs" shape-rendering="auto">多空转折点</text>
<rect x="1463" y="283" width="8" height="1" fill="#ff0000" />
<rect x="1470" y="282" width="3" height="3" fill="#ff0000" />
<rect x="1471" y="283" width="1" height="1" fill="#fff" />
<rect x="1473" y="271" width="74" height="25" fill="#ff0000" />
<rect x="1474" y="272" width="72" height="23" fill="#fff" />
<text x="1476" y="291.3" font-size="20.6" fill="#ff0000" textLength="69.5" lengthAdjust="spacingAndGlyphs" shape-rendering="auto">1.25576</text>
<rect x="1606" y="46" width="2" height="1" fill="#000" />
<text x="1611.5" y="50" font-size="10" fill="#000" textLength="32.2" lengthAdjust="spacingAndGlyphs" >1.35280</text>
<rect x="1606" y="79" width="2" height="1" fill="#000" />
<text x="1611.5" y="83" font-size="10" fill="#000" textLength="32.2" lengthAdjust="spacingAndGlyphs" >1.33920</text>
<rect x="1606" y="112" width="2" height="1" fill="#000" />
<text x="1611.5" y="116" font-size="10" fill="#000" textLength="32.2" lengthAdjust="spacingAndGlyphs" >1.32560</text>
<rect x="1606" y="145" width="2" height="1" fill="#000" />
<text x="1611.5" y="149" font-size="10" fill="#000" textLength="32.2" lengthAdjust="spacingAndGlyphs" >1.31240</text>
<rect x="1606" y="178" width="2" height="1" fill="#000" />
<text x="1611.5" y="182" font-size="10" fill="#000" textLength="32.2" lengthAdjust="spacingAndGlyphs" >1.29880</text>
<rect x="1606" y="211" width="2" height="1" fill="#000" />
<text x="1611.5" y="215" font-size="10" fill="#000" textLength="32.2" lengthAdjust="spacingAndGlyphs" >1.28520</text>
<rect x="1606" y="244" width="2" height="1" fill="#000" />
<text x="1611.5" y="248" font-size="10" fill="#000" textLength="32.2" lengthAdjust="spacingAndGlyphs" >1.27160</text>
<rect x="1606" y="277" width="2" height="1" fill="#000" />
<text x="1611.5" y="281" font-size="10" fill="#000" textLength="32.2" lengthAdjust="spacingAndGlyphs" >1.25840</text>
<rect x="1606" y="310" width="2" height="1" fill="#000" />
<text x="1611.5" y="314" font-size="10" fill="#000" textLength="32.2" lengthAdjust="spacingAndGlyphs" >1.24480</text>
<rect x="1606" y="343" width="2" height="1" fill="#000" />
<text x="1611.5" y="347" font-size="10" fill="#000" textLength="32.2" lengthAdjust="spacingAndGlyphs" >1.23120</text>
<rect x="1606" y="376" width="2" height="1" fill="#000" />
<text x="1611.5" y="380" font-size="10" fill="#000" textLength="32.2" lengthAdjust="spacingAndGlyphs" >1.21760</text>
<rect x="1606" y="409" width="2" height="1" fill="#000" />
<text x="1611.5" y="413" font-size="10" fill="#000" textLength="32.2" lengthAdjust="spacingAndGlyphs" >1.20400</text>
<rect x="1606" y="442" width="2" height="1" fill="#000" />
<text x="1611.5" y="446" font-size="10" fill="#000" textLength="32.2" lengthAdjust="spacingAndGlyphs" >1.19080</text>
<rect x="1606" y="475" width="2" height="1" fill="#000" />
<text x="1611.5" y="479" font-size="10" fill="#000" textLength="32.2" lengthAdjust="spacingAndGlyphs" >1.17720</text>
<rect x="1606" y="508" width="2" height="1" fill="#000" />
<text x="1611.5" y="512" font-size="10" fill="#000" textLength="32.2" lengthAdjust="spacingAndGlyphs" >1.16360</text>
<rect x="1606" y="541" width="2" height="1" fill="#000" />
<text x="1611.5" y="545" font-size="10" fill="#000" textLength="32.2" lengthAdjust="spacingAndGlyphs" >1.15000</text>
<rect x="1606" y="574" width="2" height="1" fill="#000" />
<text x="1611.5" y="578" font-size="10" fill="#000" textLength="32.2" lengthAdjust="spacingAndGlyphs" >1.13680</text>
<rect x="1607" y="232" width="41" height="11" fill="#ff0000" />
<text x="1611.6" y="241" font-size="10" fill="#fff" textLength="31.6" lengthAdjust="spacingAndGlyphs" >1.27415</text>
<rect x="1607" y="252" width="41" height="11" fill="#ff4500" />
<text x="1611.6" y="261" font-size="10" fill="#fff" textLength="31.6" lengthAdjust="spacingAndGlyphs" >1.26597</text>
<rect x="1607" y="277" width="41" height="11" fill="#32cd32" />
<text x="1611.6" y="286" font-size="10" fill="#fff" textLength="31.6" lengthAdjust="spacingAndGlyphs" >1.25576</text>
<rect x="1607" y="296" width="41" height="11" fill="#000" />
<text x="1611.6" y="305" font-size="10" fill="#fff" textLength="31.6" lengthAdjust="spacingAndGlyphs" >1.24840</text>
<rect x="1607" y="318" width="41" height="11" fill="#0000ff" />
<text x="1611.6" y="327" font-size="10" fill="#fff" textLength="31.6" lengthAdjust="spacingAndGlyphs" >1.23900</text>
<rect x="1607" y="343" width="41" height="11" fill="#0000ff" />
<text x="1611.6" y="352" font-size="10" fill="#fff" textLength="31.6" lengthAdjust="spacingAndGlyphs" >1.22878</text>
<polygon points="1,35 8,35 4.5,30.5" fill="#000" shape-rendering="auto"/>
<text x="13.2" y="36" font-size="10" fill="#000" textLength="213.5" lengthAdjust="spacingAndGlyphs" >GBPUSD-,Daily&#160;&#160;1.25799 1.25806 1.24840 1.24840</text>
<g clip-path="url(#cmacd)">
<rect x="6" y="603" width="1" height="33" fill="#c0c0c0" />
<rect x="14" y="597" width="1" height="39" fill="#c0c0c0" />
<rect x="22" y="594" width="1" height="42" fill="#c0c0c0" />
<rect x="30" y="593" width="1" height="43" fill="#c0c0c0" />
<rect x="38" y="592" width="1" height="44" fill="#c0c0c0" />
<rect x="46" y="592" width="1" height="44" fill="#c0c0c0" />
<rect x="54" y="594" width="1" height="42" fill="#c0c0c0" />
<rect x="62" y="595" width="1" height="41" fill="#c0c0c0" />
<rect x="70" y="596" width="1" height="40" fill="#c0c0c0" />
<rect x="78" y="597" width="1" height="39" fill="#c0c0c0" />
<rect x="86" y="599" width="1" height="37" fill="#c0c0c0" />
<rect x="94" y="600" width="1" height="36" fill="#c0c0c0" />
<rect x="102" y="600" width="1" height="36" fill="#c0c0c0" />
<rect x="110" y="600" width="1" height="36" fill="#c0c0c0" />
<rect x="118" y="601" width="1" height="35" fill="#c0c0c0" />
<rect x="126" y="603" width="1" height="33" fill="#c0c0c0" />
<rect x="134" y="606" width="1" height="30" fill="#c0c0c0" />
<rect x="142" y="608" width="1" height="28" fill="#c0c0c0" />
<rect x="150" y="612" width="1" height="24" fill="#c0c0c0" />
<rect x="158" y="615" width="1" height="21" fill="#c0c0c0" />
<rect x="166" y="618" width="1" height="18" fill="#c0c0c0" />
<rect x="174" y="619" width="1" height="17" fill="#c0c0c0" />
<rect x="182" y="620" width="1" height="16" fill="#c0c0c0" />
<rect x="190" y="621" width="1" height="15" fill="#c0c0c0" />
<rect x="198" y="621" width="1" height="15" fill="#c0c0c0" />
<rect x="206" y="621" width="1" height="15" fill="#c0c0c0" />
<rect x="214" y="621" width="1" height="15" fill="#c0c0c0" />
<rect x="222" y="620" width="1" height="16" fill="#c0c0c0" />
<rect x="230" y="620" width="1" height="16" fill="#c0c0c0" />
<rect x="238" y="621" width="1" height="15" fill="#c0c0c0" />
<rect x="246" y="621" width="1" height="15" fill="#c0c0c0" />
<rect x="254" y="624" width="1" height="12" fill="#c0c0c0" />
<rect x="262" y="625" width="1" height="11" fill="#c0c0c0" />
<rect x="270" y="626" width="1" height="10" fill="#c0c0c0" />
<rect x="278" y="627" width="1" height="9" fill="#c0c0c0" />
<rect x="286" y="627" width="1" height="9" fill="#c0c0c0" />
<rect x="294" y="627" width="1" height="9" fill="#c0c0c0" />
<rect x="302" y="626" width="1" height="10" fill="#c0c0c0" />
<rect x="310" y="627" width="1" height="9" fill="#c0c0c0" />
<rect x="318" y="626" width="1" height="10" fill="#c0c0c0" />
<rect x="326" y="625" width="1" height="11" fill="#c0c0c0" />
<rect x="334" y="621" width="1" height="15" fill="#c0c0c0" />
<rect x="342" y="618" width="1" height="18" fill="#c0c0c0" />
<rect x="350" y="615" width="1" height="21" fill="#c0c0c0" />
<rect x="358" y="614" width="1" height="22" fill="#c0c0c0" />
<rect x="366" y="612" width="1" height="24" fill="#c0c0c0" />
<rect x="374" y="612" width="1" height="24" fill="#c0c0c0" />
<rect x="382" y="611" width="1" height="25" fill="#c0c0c0" />
<rect x="390" y="603" width="1" height="33" fill="#c0c0c0" />
<rect x="398" y="601" width="1" height="35" fill="#c0c0c0" />
<rect x="406" y="599" width="1" height="37" fill="#c0c0c0" />
<rect x="414" y="600" width="1" height="36" fill="#c0c0c0" />
<rect x="422" y="605" width="1" height="31" fill="#c0c0c0" />
<rect x="430" y="610" width="1" height="26" fill="#c0c0c0" />
<rect x="438" y="616" width="1" height="20" fill="#c0c0c0" />
<rect x="446" y="620" width="1" height="16" fill="#c0c0c0" />
<rect x="454" y="624" width="1" height="12" fill="#c0c0c0" />
<rect x="462" y="629" width="1" height="7" fill="#c0c0c0" />
<rect x="470" y="633" width="1" height="3" fill="#c0c0c0" />
<rect x="478" y="635" width="1" height="2" fill="#c0c0c0" />
<rect x="494" y="635" width="1" height="2" fill="#c0c0c0" />
<rect x="510" y="633" width="1" height="3" fill="#c0c0c0" />
<rect x="518" y="629" width="1" height="7" fill="#c0c0c0" />
<rect x="526" y="626" width="1" height="10" fill="#c0c0c0" />
<rect x="534" y="626" width="1" height="10" fill="#c0c0c0" />
<rect x="542" y="628" width="1" height="8" fill="#c0c0c0" />
<rect x="550" y="630" width="1" height="6" fill="#c0c0c0" />
<rect x="558" y="629" width="1" height="7" fill="#c0c0c0" />
<rect x="566" y="628" width="1" height="8" fill="#c0c0c0" />
<rect x="574" y="629" width="1" height="7" fill="#c0c0c0" />
<rect x="582" y="630" width="1" height="6" fill="#c0c0c0" />
<rect x="590" y="631" width="1" height="5" fill="#c0c0c0" />
<rect x="598" y="633" width="1" height="3" fill="#c0c0c0" />
<rect x="606" y="634" width="1" height="2" fill="#c0c0c0" />
<rect x="622" y="635" width="1" height="2" fill="#c0c0c0" />
<rect x="630" y="635" width="1" height="3" fill="#c0c0c0" />
<rect x="638" y="635" width="1" height="2" fill="#c0c0c0" />
<rect x="646" y="635" width="1" height="4" fill="#c0c0c0" />
<rect x="654" y="635" width="1" height="5" fill="#c0c0c0" />
<rect x="662" y="635" width="1" height="6" fill="#c0c0c0" />
<rect x="670" y="635" width="1" height="4" fill="#c0c0c0" />
<rect x="678" y="635" width="1" height="4" fill="#c0c0c0" />
<rect x="686" y="635" width="1" height="3" fill="#c0c0c0" />
<rect x="694" y="635" width="1" height="2" fill="#c0c0c0" />
<rect x="702" y="635" width="1" height="2" fill="#c0c0c0" />
<rect x="726" y="634" width="1" height="2" fill="#c0c0c0" />
<rect x="734" y="634" width="1" height="2" fill="#c0c0c0" />
<rect x="742" y="631" width="1" height="5" fill="#c0c0c0" />
<rect x="750" y="634" width="1" height="2" fill="#c0c0c0" />
<rect x="766" y="635" width="1" height="2" fill="#c0c0c0" />
<rect x="774" y="635" width="1" height="5" fill="#c0c0c0" />
<rect x="782" y="635" width="1" height="8" fill="#c0c0c0" />
<rect x="790" y="635" width="1" height="10" fill="#c0c0c0" />
<rect x="798" y="635" width="1" height="12" fill="#c0c0c0" />
<rect x="806" y="635" width="1" height="12" fill="#c0c0c0" />
<rect x="814" y="635" width="1" height="12" fill="#c0c0c0" />
<rect x="822" y="635" width="1" height="8" fill="#c0c0c0" />
<rect x="830" y="635" width="1" height="7" fill="#c0c0c0" />
<rect x="838" y="635" width="1" height="6" fill="#c0c0c0" />
<rect x="846" y="635" width="1" height="4" fill="#c0c0c0" />
<rect x="854" y="635" width="1" height="4" fill="#c0c0c0" />
<rect x="862" y="635" width="1" height="6" fill="#c0c0c0" />
<rect x="870" y="635" width="1" height="8" fill="#c0c0c0" />
<rect x="878" y="635" width="1" height="7" fill="#c0c0c0" />
<rect x="886" y="635" width="1" height="6" fill="#c0c0c0" />
<rect x="894" y="635" width="1" height="6" fill="#c0c0c0" />
<rect x="902" y="635" width="1" height="6" fill="#c0c0c0" />
<rect x="910" y="635" width="1" height="6" fill="#c0c0c0" />
<rect x="918" y="635" width="1" height="8" fill="#c0c0c0" />
<rect x="926" y="635" width="1" height="12" fill="#c0c0c0" />
<rect x="934" y="635" width="1" height="14" fill="#c0c0c0" />
<rect x="942" y="635" width="1" height="16" fill="#c0c0c0" />
<rect x="950" y="635" width="1" height="16" fill="#c0c0c0" />
<rect x="958" y="635" width="1" height="16" fill="#c0c0c0" />
<rect x="966" y="635" width="1" height="12" fill="#c0c0c0" />
<rect x="974" y="635" width="1" height="8" fill="#c0c0c0" />
<rect x="982" y="635" width="1" height="4" fill="#c0c0c0" />
<rect x="990" y="635" width="1" height="2" fill="#c0c0c0" />
<rect x="998" y="635" width="1" height="2" fill="#c0c0c0" />
<rect x="1006" y="635" width="1" height="5" fill="#c0c0c0" />
<rect x="1014" y="635" width="1" height="13" fill="#c0c0c0" />
<rect x="1022" y="635" width="1" height="25" fill="#c0c0c0" />
<rect x="1030" y="635" width="1" height="33" fill="#c0c0c0" />
<rect x="1038" y="635" width="1" height="40" fill="#c0c0c0" />
<rect x="1046" y="635" width="1" height="50" fill="#c0c0c0" />
<rect x="1054" y="635" width="1" height="70" fill="#c0c0c0" />
<rect x="1062" y="635" width="1" height="86" fill="#c0c0c0" />
<rect x="1070" y="635" width="1" height="96" fill="#c0c0c0" />
<rect x="1078" y="635" width="1" height="102" fill="#c0c0c0" />
<rect x="1086" y="635" width="1" height="106" fill="#c0c0c0" />
<rect x="1094" y="635" width="1" height="104" fill="#c0c0c0" />
<rect x="1102" y="635" width="1" height="100" fill="#c0c0c0" />
<rect x="1110" y="635" width="1" height="86" fill="#c0c0c0" />
<rect x="1118" y="635" width="1" height="68" fill="#c0c0c0" />
<rect x="1126" y="635" width="1" height="55" fill="#c0c0c0" />
<rect x="1134" y="635" width="1" height="45" fill="#c0c0c0" />
<rect x="1142" y="635" width="1" height="36" fill="#c0c0c0" />
<rect x="1150" y="635" width="1" height="28" fill="#c0c0c0" />
<rect x="1158" y="635" width="1" height="23" fill="#c0c0c0" />
<rect x="1166" y="635" width="1" height="21" fill="#c0c0c0" />
<rect x="1174" y="635" width="1" height="21" fill="#c0c0c0" />
<rect x="1182" y="635" width="1" height="20" fill="#c0c0c0" />
<rect x="1190" y="635" width="1" height="16" fill="#c0c0c0" />
<rect x="1198" y="635" width="1" height="12" fill="#c0c0c0" />
<rect x="1206" y="635" width="1" height="7" fill="#c0c0c0" />
<rect x="1214" y="635" width="1" height="3" fill="#c0c0c0" />
<rect x="1222" y="633" width="1" height="3" fill="#c0c0c0" />
<rect x="1230" y="627" width="1" height="9" fill="#c0c0c0" />
<rect x="1238" y="625" width="1" height="11" fill="#c0c0c0" />
<rect x="1246" y="624" width="1" height="12" fill="#c0c0c0" />
<rect x="1254" y="624" width="1" height="12" fill="#c0c0c0" />
<rect x="1262" y="624" width="1" height="12" fill="#c0c0c0" />
<rect x="1270" y="626" width="1" height="10" fill="#c0c0c0" />
<rect x="1278" y="628" width="1" height="8" fill="#c0c0c0" />
<rect x="1286" y="632" width="1" height="4" fill="#c0c0c0" />
<rect x="1294" y="632" width="1" height="4" fill="#c0c0c0" />
<rect x="1302" y="634" width="1" height="2" fill="#c0c0c0" />
<rect x="1310" y="634" width="1" height="2" fill="#c0c0c0" />
<rect x="1318" y="634" width="1" height="2" fill="#c0c0c0" />
<rect x="1326" y="633" width="1" height="3" fill="#c0c0c0" />
<rect x="1334" y="631" width="1" height="5" fill="#c0c0c0" />
<rect x="1342" y="628" width="1" height="8" fill="#c0c0c0" />
<rect x="1350" y="628" width="1" height="8" fill="#c0c0c0" />
<path d="M0,626.5h2M2.5,625v1M6.5,623v1M7,622.5h2M12.5,620v1M13.5,619v1M14.5,618v1M18.5,615v1M19,614.5h2M24.5,611v1M25,610.5h2M30.5,608v1M31,607.5h2M36.5,605v1M37,604.5h2M42.5,602v1M43,601.5h2M48.5,599v1M49,598.5h2M54.5,597v1M55,596.5h2M60.5,595v1M61,594.5h2M66,593.5h3M72,592.5h3M78,592.5h3M84,592.5h3M90,592.5h3M96,593.5h3M102,594.5h3M108,595.5h2M110.5,596v1M114,596.5h3M120,597.5h3M126,598.5h3M132.5,598v1M133,599.5h2M138,600.5h3M144,601.5h2M146.5,602v1M150,602.5h3M156,603.5h3M162.5,604v1M163,605.5h2M168.5,606v1M169,607.5h2M174,608.5h3M180.5,609v1M181,610.5h2M186,611.5h3M192,612.5h2M194.5,613v1M198,614.5h2M200.5,615v1M204,616.5h2M206.5,617v1M210.5,617v1M211,618.5h2M216.5,618v1M217,619.5h2M222,619.5h3M228.5,619v1M229,620.5h2M234,620.5h3M240,620.5h3M246,620.5h3M252,620.5h3M258,620.5h3M264,620.5h2M266.5,621v1M270.5,621v1M271,622.5h2M276,622.5h3M282,622.5h3M288,622.5h3M294,622.5h3M300,623.5h3M306,624.5h3M312,624.5h3M318,625.5h3M324,625.5h3M330.5,625v1M331,624.5h2M336,624.5h3M342,623.5h3M348,622.5h3M354,621.5h3M360.5,621v1M361,620.5h2M366.5,620v1M367,619.5h2M372,618.5h3M378,617.5h3M384,616.5h2M386.5,615v1M390,614.5h3M396,613.5h2M398.5,612v1M400,610.5h2M402.5,609v1M406,607.5h3M412.5,606v1M413,605.5h2M418,605.5h3M424,605.5h3M430,605.5h3M436,605.5h3M442,605.5h2M444.5,606v1M448.5,606v1M449,607.5h2M454,608.5h2M456.5,609v1M460,610.5h3M466,612.5h3M472.5,614v1M473,615.5h2M478.5,617v1M479,618.5h2M484.5,620v1M485,621.5h2M490,624.5h2M492.5,625v1M496.5,626v1M497,627.5h2M502,628.5h3M508,630.5h3M514,631.5h3M520.5,631v1M521,632.5h2M526,632.5h3M532,632.5h2M534.5,631v1M538,631.5h3M544.5,631v1M545,630.5h2M550,630.5h2M552.5,629v1M556.5,629v1M557,628.5h2M562,628.5h3M568,628.5h3M574,627.5h3M580,627.5h3M586,627.5h2M588.5,628v1M592,628.5h3M598,629.5h3M604.5,629v1M605,630.5h2M610,630.5h3M616,631.5h3M622,632.5h3M628,632.5h2M630.5,633v1M634,633.5h3M640,634.5h3M646,635.5h2M648.5,636v1M652,636.5h3M658,637.5h3M664,637.5h3M670,638.5h3M676,638.5h3M682,637.5h3M688,637.5h3M694,636.5h3M700,636.5h3M706,636.5h3M712,636.5h3M718,636.5h3M724,635.5h3M730.5,635v1M731,634.5h2M736,634.5h3M742,634.5h3M748,634.5h3M754,634.5h3M760,634.5h3M766,635.5h3M772,635.5h3M778,635.5h3M784,636.5h3M790,636.5h2M792.5,637v1M796,638.5h3M802.5,638v1M803,639.5h2M808,640.5h3M814,641.5h3M820,642.5h3M826,643.5h3M832,643.5h3M838,643.5h3M844,643.5h3M850,643.5h3M856,643.5h3M862,643.5h2M864.5,642v1M868,642.5h3M874,642.5h3M880,641.5h3M886,641.5h3M892,641.5h3M898,641.5h3M904,641.5h3M910,641.5h3M916,641.5h3M922,642.5h3M928,643.5h3M934.5,643v1M935,644.5h2M940,644.5h3M946,645.5h3M952,645.5h2M954.5,646v1M958,646.5h3M964,647.5h3M970,647.5h3M976,647.5h3M982,646.5h3M988,645.5h3M994,644.5h3M1000.5,644v1M1001,643.5h2M1006,643.5h3M1012,643.5h3M1018,643.5h3M1024.5,643v1M1025,644.5h2M1030.5,644v1M1031,645.5h2M1036.5,647v1M1037,648.5h2M1042.5,650v1M1043.5,651v1M1044.5,652v1M1048,656.5h2M1050.5,657v1M1054.5,661v1M1055.5,662v1M1056.5,663v1M1060.5,667v1M1061.5,668v1M1062.5,669v1M1066.5,673v1M1067.5,674v1M1068.5,675v1M1070.5,679v1M1071.5,680v2M1074.5,685v2M1075.5,687v1M1078.5,691v1M1079.5,692v1M1080.5,693v1M1083.5,697v1M1084.5,698v2M1088.5,703v1M1089.5,704v1M1090.5,705v1M1093.5,709v1M1094.5,710v1M1095.5,711v1M1099,715.5h2M1101.5,716v1M1105.5,719v1M1106,720.5h2M1111,722.5h2M1113.5,723v1M1117,724.5h3M1123,723.5h3M1129.5,722v1M1130.5,721v1M1131.5,720v1M1135,717.5h2M1137.5,716v1M1141.5,712v1M1142.5,711v1M1143.5,710v1M1147.5,707v1M1148.5,706v1M1149.5,705v1M1153.5,701v1M1154.5,700v1M1155.5,699v1M1158.5,695v1M1159.5,694v1M1160.5,693v1M1164.5,689v1M1165.5,687v2M1169.5,683v1M1170.5,682v1M1171.5,681v1M1174.5,677v1M1175.5,676v1M1176.5,675v1M1180.5,672v1M1181.5,671v1M1182.5,670v1M1186.5,667v1M1187,666.5h2M1192.5,663v1M1193,662.5h2M1198,659.5h2M1200.5,658v1M1204.5,655v1M1205,654.5h2M1210,652.5h2M1212.5,651v1M1216,649.5h2M1218.5,648v1M1222.5,647v1M1223,646.5h2M1228.5,645v1M1229,644.5h2M1234,642.5h2M1236.5,641v1M1240.5,640v1M1241,639.5h2M1246,637.5h2M1248.5,636v1M1252,634.5h3M1258.5,632v1M1259,631.5h2M1264,629.5h3M1270,627.5h3M1276,627.5h2M1278.5,626v1M1282,626.5h3M1288,626.5h3M1294,626.5h3M1300.5,626v1M1301,627.5h2M1306,627.5h3M1312,628.5h3M1318,629.5h3M1324,630.5h3M1330,631.5h3M1336,631.5h3M1342,631.5h3M1348,631.5h3" fill="none" stroke="#ff0000" stroke-width="1" />
</g>
<text x="2.5" y="592" font-size="10" fill="#000" textLength="147" lengthAdjust="spacingAndGlyphs" >MACD(12,26,9) 0.002711 0.001151</text>
<rect x="1606" y="580" width="2" height="1" fill="#000" />
<text x="1609.3" y="590.3" font-size="10" fill="#000" textLength="37.5" lengthAdjust="spacingAndGlyphs" >0.018369</text>
<rect x="1606" y="635" width="2" height="1" fill="#000" />
<text x="1609.3" y="639" font-size="10" fill="#000" textLength="17.5" lengthAdjust="spacingAndGlyphs" >0.00</text>
<rect x="1606" y="747" width="2" height="1" fill="#000" />
<text x="1609.3" y="746" font-size="10" fill="#000" textLength="40.8" lengthAdjust="spacingAndGlyphs" >-0.038585</text>
<g clip-path="url(#crsi)">
<line x1="0" y1="787.5" x2="1605" y2="787.5" stroke="#c0c0c0" stroke-width="1" stroke-dasharray="3 3"/>
<line x1="0" y1="838.5" x2="1605" y2="838.5" stroke="#c0c0c0" stroke-width="1" stroke-dasharray="3 3"/>
<line x1="0" y1="899.5" x2="1605" y2="899.5" stroke="#c0c0c0" stroke-width="1" stroke-dasharray="3 3"/>
<path d="M-2,798.5h3M1,797.5h3M4,796.5h4M8.5,795v1M9,794.5h3M12.5,793v1M13,792.5h2M15.5,793v1M16.5,794v1M17.5,795v1M18,796.5h2M20.5,797v1M21.5,798v1M22.5,799v1M23,798.5h2M25.5,797v1M26,796.5h2M28,795.5h2M30.5,794v1M31.5,795v2M32.5,797v2M33.5,799v2M34.5,801v1M35.5,802v2M36.5,804v2M37.5,806v2M38,808.5h3M41,807.5h3M44,806.5h3M47.5,807v1M48.5,808v2M49.5,810v1M50.5,811v1M51.5,812v1M52.5,813v2M53.5,815v1M54,816.5h3M57,817.5h3M60,818.5h13M73,817.5h3M76,816.5h7M83,815.5h4M87,814.5h3M90.5,813v1M91,812.5h3M94,811.5h2M96,810.5h3M99,809.5h2M101,808.5h6M107,809.5h12M119.5,810v1M120.5,811v1M121.5,812v1M122.5,813v2M123.5,815v1M124.5,816v1M125.5,817v1M126,818.5h3M129,819.5h3M132,820.5h4M136.5,821v1M137,822.5h3M140.5,823v1M141,824.5h2M143.5,825v1M144.5,826v1M145.5,827v1M146,828.5h2M148.5,829v1M149.5,830v1M150.5,831v1M151,832.5h2M153.5,833v1M154.5,834v1M155.5,835v1M156,836.5h2M158,837.5h2M160,836.5h3M163,835.5h2M165,834.5h2M167.5,833v1M168.5,832v1M169.5,831v1M170.5,830v1M171.5,829v1M172.5,828v1M173.5,827v1M174,826.5h5M179,827.5h7M186,826.5h6M192.5,825v1M193,824.5h3M196.5,823v1M197,822.5h3M200,821.5h2M202,820.5h3M205,819.5h3M208,818.5h3M211,817.5h2M213,816.5h3M216.5,815v1M217,814.5h3M220.5,813v1M221,812.5h2M223,813.5h2M225,814.5h2M227.5,815v1M228,816.5h2M230,817.5h4M234,818.5h7M241,819.5h3M244,820.5h3M246.5,821v1M247.5,822v2M248.5,824v3M249.5,827v3M250.5,830v2M251.5,832v3M252.5,835v3M253.5,838v2M254.5,840v2M255,840.5h2M257.5,839v1M258,838.5h2M260,837.5h2M262.5,836v1M263.5,835v1M264.5,834v1M265.5,833v1M266.5,832v1M267.5,831v1M268.5,830v1M269.5,829v1M270.5,828v1M271.5,829v1M272.5,830v1M273.5,831v1M274.5,832v1M275.5,833v1M276.5,834v1M277.5,835v1M278.5,836v1M279.5,834v2M280.5,833v1M281.5,831v2M282.5,830v1M283.5,828v2M284.5,827v1M285.5,825v2M286,824.5h2M288.5,825v1M289,826.5h3M292.5,827v1M293,828.5h3M296.5,827v1M297,826.5h3M300.5,825v1M301,824.5h2M303,825.5h2M305,826.5h2M307.5,827v1M308,828.5h2M310.5,829v1M311,828.5h2M313.5,827v1M314,826.5h2M316,825.5h2M318.5,824v1M319.5,823v1M320.5,822v1M321.5,821v1M322.5,820v1M323.5,819v1M324.5,818v1M325.5,817v1M326.5,816v1M327.5,814v2M328.5,812v2M329.5,811v1M330.5,809v2M331.5,808v1M332.5,806v2M333.5,804v2M334.5,803v1M335,802.5h2M337.5,801v1M338,800.5h2M340,799.5h2M342.5,798v1M343,799.5h2M345,800.5h2M347.5,801v1M348,802.5h2M350,803.5h12M362,802.5h5M367,803.5h2M369,804.5h2M371.5,805v1M372,806.5h2M374.5,807v1M375.5,806v1M376.5,805v1M377.5,804v1M378.5,803v1M379.5,802v1M380.5,801v1M381.5,800v1M382.5,798v2M383.5,796v2M384.5,794v2M385.5,792v2M386.5,789v3M387.5,787v2M388.5,785v2M389.5,783v2M390.5,782v1M391.5,783v3M392.5,786v3M393.5,789v3M394.5,792v3M395.5,795v3M396.5,798v3M397.5,801v3M398.5,804v2M399,805.5h3M402,804.5h5M407.5,805v2M408.5,807v1M409.5,808v2M410.5,810v1M411.5,811v2M412.5,813v1M413.5,814v2M414.5,816v2M415.5,818v2M416.5,820v2M417.5,822v2M418.5,824v3M419.5,827v2M420.5,829v2M421.5,831v2M422.5,833v2M423,835.5h2M425,836.5h2M427.5,837v1M428,838.5h2M430.5,839v1M431,840.5h2M433.5,841v1M434.5,842v1M435.5,843v1M436,844.5h2M438,845.5h12M450,846.5h5M455.5,847v1M456.5,848v1M457.5,849v1M458,850.5h2M460.5,851v1M461.5,852v1M462,853.5h4M466,854.5h5M471.5,853v1M472,852.5h2M474.5,851v1M475,850.5h2M477.5,849v1M478,848.5h2M480.5,847v1M481,846.5h3M484.5,845v1M485,844.5h2M487.5,842v2M488.5,841v1M489.5,839v2M490.5,838v1M491.5,836v2M492.5,835v1M493.5,833v2M494,832.5h5M499,833.5h5M504,832.5h5M509,831.5h2M511.5,829v2M512.5,827v2M513.5,825v2M514.5,823v2M515.5,821v2M516.5,819v2M517.5,817v2M518,816.5h9M527.5,817v2M528.5,819v2M529.5,821v2M530.5,823v2M531.5,825v2M532.5,827v2M533.5,829v2M534.5,831v1M535.5,832v1M536.5,833v1M537.5,834v1M538.5,835v1M539.5,836v1M540.5,837v1M541.5,838v1M542,839.5h9M551.5,838v1M552.5,836v2M553.5,835v1M554.5,834v1M555.5,833v1M556.5,831v2M557.5,830v1M558.5,829v1M559.5,830v1M560.5,831v1M561,832.5h2M563.5,833v1M564.5,834v1M565.5,835v1M566,836.5h5M571,837.5h4M575,838.5h3M578.5,839v1M579,840.5h3M582,841.5h4M586,842.5h6M592,843.5h2M594,844.5h3M597,845.5h2M599.5,846v1M600.5,847v1M601,848.5h2M603.5,849v1M604.5,850v1M605.5,851v1M606.5,852v1M607.5,851v1M608,850.5h2M610.5,849v1M611,848.5h2M613.5,847v1M614,846.5h3M617,845.5h3M620,844.5h3M623.5,843v1M624,842.5h2M626.5,841v1M627,840.5h2M629.5,839v1M630.5,838v1M631.5,839v1M632.5,840v1M633.5,841v1M634.5,842v1M635.5,843v1M636.5,844v1M637.5,845v1M638,846.5h3M641,847.5h3M644,848.5h11M655.5,847v1M656.5,846v1M657.5,845v1M658,844.5h2M660.5,843v1M661.5,842v1M662.5,841v1M663.5,839v2M664.5,837v2M665.5,835v2M666.5,833v2M667.5,831v2M668.5,829v2M669.5,827v2M670.5,826v1M671,827.5h2M673,828.5h2M675.5,829v1M676,830.5h2M678.5,831v1M679,832.5h2M681.5,833v1M682,834.5h2M684,835.5h2M686,836.5h2M688.5,837v1M689,838.5h3M692.5,839v1M693,840.5h10M703.5,841v1M704,842.5h2M706.5,843v1M707,844.5h2M709.5,845v1M710,846.5h9M719.5,844v2M720.5,843v1M721.5,841v2M722.5,840v1M723.5,838v2M724.5,837v1M725.5,835v2M726.5,834v1M727.5,832v2M728.5,830v2M729.5,828v2M730.5,826v2M731.5,824v2M732.5,822v2M733.5,820v2M734,819.5h2M736,820.5h3M739,821.5h2M741,822.5h2M742.5,823v1M743.5,824v4M744.5,828v3M745.5,831v3M746.5,834v4M747.5,838v3M748.5,841v3M749.5,844v4M750.5,848v2M751,848.5h2M753.5,847v1M754,846.5h2M756,845.5h2M758,844.5h2M760,845.5h2M762,846.5h3M765,847.5h2M767.5,848v1M768.5,849v1M769,850.5h2M771.5,851v1M772.5,852v1M773.5,853v1M774.5,854v1M775.5,855v1M776,856.5h2M778.5,857v1M779,858.5h2M781.5,859v1M782,860.5h5M787,859.5h4M791,858.5h2M793.5,857v1M794,856.5h2M796,855.5h2M798.5,854v1M799.5,853v1M800,852.5h2M802.5,851v1M803,850.5h2M805.5,849v1M806,848.5h9M815.5,846v2M816.5,844v2M817.5,842v2M818.5,841v1M819.5,839v2M820.5,837v2M821.5,835v2M822,834.5h3M825,835.5h3M828,836.5h5M833,835.5h3M836,834.5h3M839.5,835v1M840.5,836v1M841.5,837v1M842,838.5h2M844.5,839v1M845.5,840v1M846,841.5h4M850,842.5h5M855.5,843v1M856.5,844v2M857.5,846v1M858.5,847v1M859.5,848v1M860.5,849v2M861.5,851v1M862.5,852v1M863.5,853v1M864,854.5h2M866.5,855v1M867,856.5h2M869.5,857v1M870.5,857v2M871.5,856v1M872.5,853v3M873.5,852v1M874.5,849v3M875.5,848v1M876.5,845v3M877.5,844v1M878.5,842v2M879.5,842v1M880,843.5h2M882,844.5h3M885,845.5h2M887,846.5h3M890.5,847v1M891,848.5h3M894.5,849v1M895.5,847v2M896.5,846v1M897.5,844v2M898.5,843v1M899.5,841v2M900.5,840v1M901.5,838v2M902.5,837v1M903.5,838v2M904.5,840v1M905.5,841v2M906.5,843v1M907.5,844v2M908.5,846v1M909.5,847v2M910,849.5h2M912,850.5h3M915,851.5h2M917,852.5h2M919.5,853v1M920.5,854v2M921.5,856v1M922.5,857v1M923.5,858v1M924.5,859v2M925.5,861v1M926,862.5h2M928,861.5h2M930,860.5h3M933,859.5h2M935,860.5h3M938.5,861v1M939,862.5h3M942.5,863v1M943.5,862v1M944.5,861v1M945.5,860v1M946.5,858v2M947.5,857v1M948.5,856v1M949.5,855v1M950.5,854v1M951.5,853v1M952.5,852v1M953.5,851v1M954.5,850v1M955.5,849v1M956.5,848v1M957.5,847v1M958.5,846v1M959.5,845v1M960.5,843v2M961.5,842v1M962.5,841v1M963.5,840v1M964.5,838v2M965.5,837v1M966.5,836v1M967.5,835v1M968.5,834v1M969.5,833v1M970.5,832v1M971.5,831v1M972.5,830v1M973.5,829v1M974.5,828v1M975.5,827v1M976.5,826v1M977.5,825v1M978.5,824v1M979.5,823v1M980.5,822v1M981.5,821v1M982,820.5h2M984,821.5h2M986,822.5h3M989,823.5h2M990.5,824v1M991.5,825v2M992.5,827v3M993.5,830v3M994.5,833v2M995.5,835v3M996.5,838v3M997.5,841v2M998.5,843v2M999.5,845v1M1000.5,846v1M1001.5,847v1M1002.5,848v1M1003.5,849v1M1004.5,850v1M1005.5,851v1M1006.5,852v2M1007.5,854v2M1008.5,856v2M1009.5,858v2M1010.5,860v2M1011.5,862v2M1012.5,864v2M1013.5,866v2M1014.5,868v2M1015.5,870v2M1016.5,872v1M1017.5,873v2M1018.5,875v1M1019.5,876v2M1020.5,878v1M1021.5,879v2M1022.5,881v1M1023.5,880v1M1024.5,878v2M1025.5,877v1M1026.5,876v1M1027.5,875v1M1028.5,873v2M1029.5,872v1M1030.5,871v1M1031,872.5h2M1033.5,873v1M1034.5,874v1M1035.5,875v1M1036,876.5h2M1038.5,877v1M1039,878.5h2M1041.5,879v1M1042,880.5h2M1044,881.5h2M1046.5,882v1M1047.5,883v2M1048.5,885v1M1049.5,886v2M1050.5,888v1M1051.5,889v2M1052.5,891v1M1053.5,892v2M1054,894.5h2M1056,895.5h2M1058,896.5h3M1061,897.5h2M1063.5,896v1M1064.5,895v1M1065,894.5h2M1067.5,893v1M1068.5,892v1M1069.5,891v1M1070,890.5h2M1072.5,889v1M1073,888.5h3M1076.5,887v1M1077,886.5h10M1086.5,885v1M1087.5,884v1M1088.5,881v3M1089.5,880v1M1090.5,877v3M1091.5,876v1M1092.5,873v3M1093.5,872v1M1094.5,870v2M1095.5,870v1M1096.5,869v1M1097,868.5h3M1100.5,867v1M1101,866.5h2M1102.5,865v1M1103.5,862v3M1104.5,860v2M1105.5,857v3M1106.5,854v3M1107.5,851v3M1108.5,849v2M1109.5,846v3M1110.5,844v2M1111.5,842v2M1112.5,840v2M1113.5,839v1M1114.5,837v2M1115.5,836v1M1116.5,834v2M1117.5,832v2M1118,831.5h4M1122,832.5h6M1128.5,833v1M1129,834.5h3M1132.5,835v1M1133,836.5h4M1137,835.5h3M1140,834.5h5M1145,835.5h3M1148,836.5h7M1155,835.5h4M1159.5,836v1M1160.5,837v1M1161,838.5h2M1163.5,839v1M1164.5,840v1M1165.5,841v1M1166,842.5h2M1168,843.5h2M1170,844.5h3M1173,845.5h5M1178,844.5h5M1183.5,843v1M1184.5,842v1M1185.5,841v1M1186,840.5h2M1188.5,839v1M1189.5,838v1M1190,837.5h2M1192,836.5h3M1195,835.5h2M1197,834.5h3M1200.5,833v1M1201,832.5h3M1204.5,831v1M1205,830.5h11M1216.5,829v1M1217,828.5h3M1220.5,827v1M1221,826.5h2M1223.5,825v1M1224.5,824v1M1225.5,823v1M1226,822.5h2M1228.5,821v1M1229.5,820v1M1230.5,819v1M1231.5,820v1M1232.5,821v1M1233.5,822v1M1234.5,823v1M1235.5,824v1M1236.5,825v1M1237.5,826v1M1238.5,827v1M1239,828.5h3M1242.5,829v1M1243,830.5h3M1246,831.5h17M1263,832.5h3M1266.5,833v1M1267,834.5h3M1270.5,835v1M1271.5,836v2M1272.5,838v1M1273.5,839v2M1274.5,841v1M1275.5,842v2M1276.5,844v1M1277.5,845v2M1278,847.5h2M1280,846.5h5M1285,845.5h3M1288,844.5h3M1291,843.5h2M1293,842.5h12M1305,841.5h3M1308,840.5h3M1311,839.5h2M1313,838.5h2M1315.5,837v1M1316,836.5h2M1318,835.5h2M1320,834.5h5M1325,833.5h2M1327,832.5h3M1330.5,831v1M1331,830.5h3M1334.5,829v1M1335.5,828v1M1336.5,826v2M1337.5,825v1M1338.5,824v1M1339.5,823v1M1340.5,821v2M1341.5,820v1M1342.5,819v1M1343.5,820v2M1344.5,822v1M1345.5,823v1M1346.5,824v2M1347.5,826v1M1348.5,827v1M1349.5,828v2M1350.5,830v1" fill="none" stroke="#1e90ff" stroke-width="1" />
</g>
<text x="2.5" y="764" font-size="10" fill="#000" textLength="67" lengthAdjust="spacingAndGlyphs" >RSI(14) 54.2787</text>
<text x="1609.3" y="761.6" font-size="10" fill="#000" textLength="14.35" lengthAdjust="spacingAndGlyphs" >100</text>
<text x="1609.3" y="791.6" font-size="10" fill="#000" textLength="9.3" lengthAdjust="spacingAndGlyphs" >80</text>
<text x="1609.3" y="842.6" font-size="10" fill="#000" textLength="9.3" lengthAdjust="spacingAndGlyphs" >50</text>
<text x="1609.3" y="903.6" font-size="10" fill="#000" textLength="9.3" lengthAdjust="spacingAndGlyphs" >15</text>
<text x="1609.3" y="922.6" font-size="10" fill="#000" textLength="4.25" lengthAdjust="spacingAndGlyphs" >0</text>
<rect x="1606" y="787" width="2" height="1" fill="#000" />
<rect x="1606" y="838" width="2" height="1" fill="#000" />
<rect x="1606" y="899" width="2" height="1" fill="#000" />
<rect x="-2" y="926" width="1" height="3" fill="#000" />
<text x="-3" y="938" font-size="10" fill="#000" textLength="50.5" lengthAdjust="spacingAndGlyphs" >16 Oct 2019</text>
<rect x="62" y="926" width="1" height="3" fill="#000" />
<text x="61" y="938" font-size="10" fill="#000" textLength="50.5" lengthAdjust="spacingAndGlyphs" >25 Oct 2019</text>
<rect x="126" y="926" width="1" height="3" fill="#000" />
<text x="125" y="938" font-size="10" fill="#000" textLength="45.5" lengthAdjust="spacingAndGlyphs" >4 Nov 2019</text>
<rect x="190" y="926" width="1" height="3" fill="#000" />
<text x="189" y="938" font-size="10" fill="#000" textLength="50.5" lengthAdjust="spacingAndGlyphs" >13 Nov 2019</text>
<rect x="254" y="926" width="1" height="3" fill="#000" />
<text x="253" y="938" font-size="10" fill="#000" textLength="50.5" lengthAdjust="spacingAndGlyphs" >22 Nov 2019</text>
<rect x="318" y="926" width="1" height="3" fill="#000" />
<text x="317" y="938" font-size="10" fill="#000" textLength="45.5" lengthAdjust="spacingAndGlyphs" >2 Dec 2019</text>
<rect x="382" y="926" width="1" height="3" fill="#000" />
<text x="381" y="938" font-size="10" fill="#000" textLength="50.5" lengthAdjust="spacingAndGlyphs" >11 Dec 2019</text>
<rect x="446" y="926" width="1" height="3" fill="#000" />
<text x="445" y="938" font-size="10" fill="#000" textLength="50.5" lengthAdjust="spacingAndGlyphs" >20 Dec 2019</text>
<rect x="510" y="926" width="1" height="3" fill="#000" />
<text x="509" y="938" font-size="10" fill="#000" textLength="50.5" lengthAdjust="spacingAndGlyphs" >30 Dec 2019</text>
<rect x="574" y="926" width="1" height="3" fill="#000" />
<text x="573" y="938" font-size="10" fill="#000" textLength="45.5" lengthAdjust="spacingAndGlyphs" >8 Jan 2020</text>
<rect x="638" y="926" width="1" height="3" fill="#000" />
<text x="637" y="938" font-size="10" fill="#000" textLength="50.5" lengthAdjust="spacingAndGlyphs" >17 Jan 2020</text>
<rect x="702" y="926" width="1" height="3" fill="#000" />
<text x="701" y="938" font-size="10" fill="#000" textLength="50.5" lengthAdjust="spacingAndGlyphs" >27 Jan 2020</text>
<rect x="766" y="926" width="1" height="3" fill="#000" />
<text x="765" y="938" font-size="10" fill="#000" textLength="45.5" lengthAdjust="spacingAndGlyphs" >5 Feb 2020</text>
<rect x="830" y="926" width="1" height="3" fill="#000" />
<text x="829" y="938" font-size="10" fill="#000" textLength="50.5" lengthAdjust="spacingAndGlyphs" >14 Feb 2020</text>
<rect x="894" y="926" width="1" height="3" fill="#000" />
<text x="893" y="938" font-size="10" fill="#000" textLength="50.5" lengthAdjust="spacingAndGlyphs" >24 Feb 2020</text>
<rect x="958" y="926" width="1" height="3" fill="#000" />
<text x="957" y="938" font-size="10" fill="#000" textLength="45.5" lengthAdjust="spacingAndGlyphs" >4 Mar 2020</text>
<rect x="1022" y="926" width="1" height="3" fill="#000" />
<text x="1021" y="938" font-size="10" fill="#000" textLength="50.5" lengthAdjust="spacingAndGlyphs" >13 Mar 2020</text>
<rect x="1086" y="926" width="1" height="3" fill="#000" />
<text x="1085" y="938" font-size="10" fill="#000" textLength="50.5" lengthAdjust="spacingAndGlyphs" >23 Mar 2020</text>
<rect x="1150" y="926" width="1" height="3" fill="#000" />
<text x="1149" y="938" font-size="10" fill="#000" textLength="45.5" lengthAdjust="spacingAndGlyphs" >1 Apr 2020</text>
<rect x="1214" y="926" width="1" height="3" fill="#000" />
<text x="1213" y="938" font-size="10" fill="#000" textLength="50.5" lengthAdjust="spacingAndGlyphs" >12 Apr 2020</text>
<rect x="1278" y="926" width="1" height="3" fill="#000" />
<text x="1277" y="938" font-size="10" fill="#000" textLength="50.5" lengthAdjust="spacingAndGlyphs" >21 Apr 2020</text>
<rect x="1342" y="926" width="1" height="3" fill="#000" />
<text x="1341" y="938" font-size="10" fill="#000" textLength="50.5" lengthAdjust="spacingAndGlyphs" >30 Apr 2020</text>
<rect x="0" y="0" width="1652" height="19" fill="#f0f0f0" />
<rect x="0" y="19" width="1652" height="1" fill="#e6e6e6" />
<rect x="0" y="20" width="1652" height="1" fill="#a0a0a0" />
<rect x="0" y="21" width="1652" height="1" fill="#696969" />
<rect x="0" y="22" width="1652" height="1" fill="#fff" />
<rect x="0" y="23" width="1652" height="1" fill="#fff" />
<text x="-6" y="11.5" font-size="12" font-family="Liberation Sans, Noto Sans CJK SC, sans-serif" fill="#000" shape-rendering="auto">新订单</text>
<text x="148.5" y="11.5" font-size="12" font-family="Liberation Sans, Noto Sans CJK SC, sans-serif" fill="#000" textLength="46" lengthAdjust="spacingAndGlyphs" shape-rendering="auto">自动交易</text>
<g shape-rendering="auto">
<polygon points="43.5,9.5 50,1.5 59,7.5 52.5,15" fill="#e9b62c" stroke="#a87612" stroke-width="1"/>
<polygon points="44,10 52.5,15.3 58.8,8.3 58.8,6.8 52.5,13.5 44,8.6" fill="#c8901a"/>
<polygon points="47,8 50.5,3.5 56,7 52.5,11.5" fill="#f6d568"/>
<rect x="73.5" y="0.5" width="10" height="9" fill="#3f90e6" stroke="#2c6cc0" stroke-width="1"/>
<rect x="75.5" y="2.5" width="6" height="1.5" fill="#d6ecff" />
<rect x="75.5" y="5.2" width="4" height="1.2" fill="#d6ecff" />
<path d="M73 15 a3 3 0 0 1 0.5-6 a4 4 0 0 1 7.5-1 a3.5 3.5 0 0 1 5 3.2 a2 2 0 0 1-1 3.8z" fill="#e4ecf8" stroke="#8aa4cc" stroke-width="1"/>
<circle cx="107" cy="8" r="7.3" fill="none" stroke="#9fb4d4" stroke-width="1.3"/>
<circle cx="107" cy="8" r="4.6" fill="none" stroke="#6f8fc4" stroke-width="1.3"/>
<circle cx="107" cy="8" r="1.8" fill="#3a66b8"/>
<path d="M107.5 8 V15.5 M107.5 15 q5 -1 6.5 -6" fill="none" stroke="#3aa03a" stroke-width="1.8"/>
<path d="M126 6.5 q8.5 -3 17 0 q-2 9.5 -8.5 9 q-6.5 .5 -8.5 -9z" fill="#f2cf3e" stroke="#c89a1c" stroke-width=".8"/>
<path d="M125.5 6 q4 -1 5 -4.5 q4 -2 8 0 q1 3.5 5 4.5 q-9 3.2 -18 0z" fill="#62a4e2" stroke="#3f7fc4" stroke-width=".8"/>
<circle cx="138.5" cy="11.8" r="4.3" fill="#e02a20" stroke="#fbeaea" stroke-width=".8"/>
<rect x="136.8" y="10.1" width="3.4" height="3.4" fill="#fff" />
</g>
<rect x="202" y="1" width="1" height="18" fill="#a0a0a0" />
<rect x="203" y="1" width="1" height="18" fill="#fff" />
<rect x="206" y="2" width="3" height="1" fill="#b0b0b0" />
<rect x="206" y="4" width="3" height="1" fill="#b0b0b0" />
<rect x="206" y="6" width="3" height="1" fill="#b0b0b0" />
<rect x="206" y="8" width="3" height="1" fill="#b0b0b0" />
<rect x="206" y="10" width="3" height="1" fill="#b0b0b0" />
<rect x="206" y="12" width="3" height="1" fill="#b0b0b0" />
<rect x="206" y="14" width="3" height="1" fill="#b0b0b0" />
<rect x="206" y="16" width="3" height="1" fill="#b0b0b0" />
<rect x="220" y="3" width="1" height="13" fill="#404040" />
<rect x="217" y="13" width="14" height="1" fill="#404040" />
<polygon points="218,5 223,5 220.5,1.5" fill="#404040" shape-rendering="auto"/>
<polygon points="229,11.5 229,16 232,13.5" fill="#404040" shape-rendering="auto"/>
<rect x="227" y="4" width="1" height="7" fill="#1f9a1f" />
<rect x="225" y="9" width="2" height="1" fill="#1f9a1f" />
<rect x="228" y="5" width="2" height="1" fill="#1f9a1f" />
<rect x="240" y="1" width="1" height="18" fill="#a0a0a0" />
<rect x="241" y="1" width="1" height="18" fill="#fff" />
<rect x="242" y="0" width="24" height="19" fill="#f8f8f8" />
<rect x="241" y="0" width="1" height="19" fill="#b8b8b8" />
<rect x="248" y="3" width="1" height="13" fill="#404040" />
<rect x="245" y="13" width="14" height="1" fill="#404040" />
<polygon points="246,5 251,5 248.5,1.5" fill="#404040" shape-rendering="auto"/>
<polygon points="257,11.5 257,16 260,13.5" fill="#404040" shape-rendering="auto"/>
<rect x="254" y="0" width="1" height="12" fill="#0b6b0b" />
<rect x="252" y="2" width="5" height="8" fill="#22c02a" stroke="#0b6b0b" stroke-width="1"/>
<rect x="276" y="3" width="1" height="13" fill="#404040" />
<rect x="273" y="13" width="14" height="1" fill="#404040" />
<polygon points="274,5 279,5 276.5,1.5" fill="#404040" shape-rendering="auto"/>
<polygon points="285,11.5 285,16 288,13.5" fill="#404040" shape-rendering="auto"/>
<path d="M276.5 11 q5 -9 8 -5 t4 3" fill="none" stroke="#1f9a1f" stroke-width="1.3" shape-rendering="auto"/>
<rect x="297" y="1" width="1" height="18" fill="#a0a0a0" />
<rect x="298" y="1" width="1" height="18" fill="#fff" />
<g shape-rendering="auto">
<line x1="315.9" y1="9.5" x2="321.4" y2="15" stroke="#c99a1e" stroke-width="2.6" stroke-linecap="round"/>
<line x1="316.4" y1="9.2" x2="321.4" y2="14.2" stroke="#f3d568" stroke-width="1"/>
<circle cx="312.4" cy="6" r="5.4" fill="#d5e9fb" stroke="#3c78c6" stroke-width="1.3"/>
<line x1="309.4" y1="6" x2="315.4" y2="6" stroke="#2a5fb4" stroke-width="1.6"/>
<line x1="312.4" y1="3" x2="312.4" y2="9" stroke="#2a5fb4" stroke-width="1.6"/>
</g>
<g shape-rendering="auto">
<line x1="343.8" y1="9.5" x2="349.3" y2="15" stroke="#c99a1e" stroke-width="2.6" stroke-linecap="round"/>
<line x1="344.3" y1="9.2" x2="349.3" y2="14.2" stroke="#f3d568" stroke-width="1"/>
<circle cx="340.3" cy="6" r="5.4" fill="#d5e9fb" stroke="#3c78c6" stroke-width="1.3"/>
<line x1="337.3" y1="6" x2="343.3" y2="6" stroke="#2a5fb4" stroke-width="1.6"/>
</g>
<rect x="362" y="0" width="7.5" height="7.5" fill="#3fae3f" />
<rect x="363.5" y="3" width="4.5" height="3" fill="#e8f4e8" />
<rect x="370.5" y="0" width="7.5" height="7.5" fill="#2f6fe0" />
<rect x="372" y="3" width="4.5" height="3" fill="#e8f4e8" />
<rect x="362" y="8" width="7.5" height="7.5" fill="#2f6fe0" />
<rect x="363.5" y="11" width="4.5" height="3" fill="#e8f4e8" />
<rect x="370.5" y="8" width="7.5" height="7.5" fill="#3fae3f" />
<rect x="372" y="11" width="4.5" height="3" fill="#e8f4e8" />
<rect x="387" y="1" width="1" height="18" fill="#a0a0a0" />
<rect x="388" y="1" width="1" height="18" fill="#fff" />
<rect x="400" y="3" width="1" height="13" fill="#404040" />
<rect x="397" y="13" width="14" height="1" fill="#404040" />
<polygon points="398,5 403,5 400.5,1.5" fill="#404040" shape-rendering="auto"/>
<polygon points="409,11.5 409,16 412,13.5" fill="#404040" shape-rendering="auto"/>
<polygon points="405,4.5 405,11 409.5,7.7" fill="#1fae2a" stroke="#0b7b12" stroke-width=".6" shape-rendering="auto"/>
<rect x="421" y="1" width="1" height="18" fill="#a0a0a0" />
<rect x="422" y="1" width="1" height="18" fill="#fff" />
<rect x="429" y="3" width="1" height="13" fill="#404040" />
<rect x="426" y="13" width="14" height="1" fill="#404040" />
<polygon points="427,5 432,5 429.5,1.5" fill="#404040" shape-rendering="auto"/>
<polygon points="438,11.5 438,16 441,13.5" fill="#404040" shape-rendering="auto"/>
<rect x="434" y="2" width="1" height="10" fill="#2a62d0" />
<path d="M440 7.2 h-4 M438 5 l-2.6 2.2 l2.6 2.2" fill="none" stroke="#e03010" stroke-width="1.3" shape-rendering="auto"/>
<rect x="449" y="1" width="1" height="18" fill="#a0a0a0" />
<rect x="450" y="1" width="1" height="18" fill="#fff" />
<g shape-rendering="auto">
<path d="M459.5 1 h7 l3.5 3.5 v9 h-10.5z" fill="#f4f4f4" stroke="#8a8a8a" stroke-width="1"/>
<path d="M464.5 4 q-2 -.5 -2 2 v6 M461.5 7 h3" fill="none" stroke="#555" stroke-width="1"/>
<path d="M468.8 6.5 v4 h-4 v3.6 h4 v4 h3.6 v-4 h4 v-3.6 h-4 v-4z" fill="#22c32a" stroke="#108a18" stroke-width=".8"/>
</g>
<polygon points="480.5,7 486.5,7 483.5,10.5" fill="#000" shape-rendering="auto"/>
<g shape-rendering="auto"><circle cx="505" cy="8" r="7.2" fill="#fff" stroke="#2b6fd8" stroke-width="2.2"/><circle cx="505" cy="8" r="5" fill="#f4f7fb" stroke="#b9c6da" stroke-width=".6"/><path d="M505 4 v4.3 h3" fill="none" stroke="#444" stroke-width="1"/></g>
<polygon points="520,7 526,7 523,10.5" fill="#000" shape-rendering="auto"/>
<rect x="536.5" y="1.5" width="15" height="13" fill="#fff" stroke="#2f6fd0" stroke-width="1.4" shape-rendering="auto"/>
<rect x="537" y="1" width="14" height="2" fill="#2f6fd0" />
<rect x="537" y="8" width="14" height="1" fill="#9ab4dc" />
<path d="M539 6.5 l2 -1 l2 .6 l2 -1.2 l2 .3 l2 -1.4" fill="none" stroke="#b02a10" stroke-width="1.2" shape-rendering="auto"/>
<path d="M539 12.5 l2 -1 l2 .4 l2 -1.6 l2 1.2 l2 .6" fill="none" stroke="#1f9a1f" stroke-width="1.2" shape-rendering="auto"/>
<polygon points="558.5,7 564.5,7 561.5,10.5" fill="#000" shape-rendering="auto"/>
<rect x="570" y="1" width="1" height="18" fill="#a0a0a0" />
<rect x="571" y="1" width="1" height="18" fill="#fff" />
<rect x="574" y="2" width="3" height="1" fill="#b0b0b0" />
<rect x="574" y="4" width="3" height="1" fill="#b0b0b0" />
<rect x="574" y="6" width="3" height="1" fill="#b0b0b0" />
<rect x="574" y="8" width="3" height="1" fill="#b0b0b0" />
<rect x="574" y="10" width="3" height="1" fill="#b0b0b0" />
<rect x="574" y="12" width="3" height="1" fill="#b0b0b0" />
<rect x="574" y="14" width="3" height="1" fill="#b0b0b0" />
<rect x="574" y="16" width="3" height="1" fill="#b0b0b0" />
<rect x="581" y="0" width="24" height="19" fill="#f8f8f8" />
<rect x="580" y="0" width="1" height="19" fill="#b8b8b8" />
<polygon points="588,1.5 588,13.5 590.8,11 593,15.5 595,14.5 592.8,10.2 596.5,10" fill="#3a3a3a" shape-rendering="auto"/>
<rect x="620" y="1" width="1" height="15" fill="#404040" />
<rect x="613" y="8" width="15" height="1" fill="#404040" />
<rect x="619" y="7" width="3" height="3" fill="#f0f0f0" />
<rect x="620" y="8" width="1" height="1" fill="#404040" />
<rect x="637" y="1" width="1" height="18" fill="#a0a0a0" />
<rect x="638" y="1" width="1" height="18" fill="#fff" />
<rect x="654" y="2" width="1" height="13" fill="#404040" />
<rect x="677" y="8" width="12" height="1" fill="#404040" />
<line x1="705" y1="14.7" x2="717.2" y2="2.6" stroke="#404040" stroke-width="1.2" shape-rendering="auto"/>
<g shape-rendering="auto" stroke="#404040" stroke-width="1" fill="none"><path d="M731.5 9.5 L743 2.5 M734 14.5 L745 7 M735.5 7 l-1.5 7 M738.5 5.2 l-1.5 7 M741.5 3.5 l-1.5 7 M743 0 l-.8 5"/></g>
<text x="741.6" y="17" font-size="6.5" fill="#222" font-weight="bold" >E</text>
<line x1="760" y1="1.5" x2="773" y2="1.5" stroke="#404040" stroke-width="1" stroke-dasharray="1 1"/>
<line x1="760" y1="5.5" x2="773" y2="5.5" stroke="#404040" stroke-width="1" stroke-dasharray="1 1"/>
<line x1="760" y1="8.5" x2="773" y2="8.5" stroke="#404040" stroke-width="1" stroke-dasharray="1 1"/>
<line x1="760" y1="12.5" x2="773" y2="12.5" stroke="#404040" stroke-width="1" stroke-dasharray="1 1"/>
<text x="7610" y="17" font-size="6.5" fill="#222" font-weight="bold" >F</text>
<text x="790.7" y="13" font-size="12" fill="#4a4a4a" textLength="7.6" lengthAdjust="spacingAndGlyphs" font-weight="bold" shape-rendering="auto">A</text>
<rect x="816.5" y="2.5" width="12" height="12" fill="none" stroke="#404040" stroke-width="1" stroke-dasharray="1 1"/>
<rect x="816" y="1" width="2" height="2" fill="#404040" />
<text x="818.6" y="13" font-size="11.5" fill="#4a4a4a" font-weight="bold" shape-rendering="auto">T</text>
<g shape-rendering="auto" fill="#404040"><polygon points="844.5,5.5 848.5,2 852.5,5.5 848.5,7.5"/><polygon points="851.5,12 855,9.8 858.5,12 855,15"/><path d="M846.5 9 l2.2 2.6 l4.2 -4.6" stroke="#404040" stroke-width="1.2" fill="none"/></g>
<polygon points="864.8,7 870.8,7 867.8,10.5" fill="#000" shape-rendering="auto"/>
<rect x="876" y="1" width="1" height="18" fill="#a0a0a0" />
<rect x="877" y="1" width="1" height="18" fill="#fff" />
<rect x="879" y="2" width="3" height="1" fill="#b0b0b0" />
<rect x="879" y="4" width="3" height="1" fill="#b0b0b0" />
<rect x="879" y="6" width="3" height="1" fill="#b0b0b0" />
<rect x="879" y="8" width="3" height="1" fill="#b0b0b0" />
<rect x="879" y="10" width="3" height="1" fill="#b0b0b0" />
<rect x="879" y="12" width="3" height="1" fill="#b0b0b0" />
<rect x="879" y="14" width="3" height="1" fill="#b0b0b0" />
<rect x="879" y="16" width="3" height="1" fill="#b0b0b0" />
<rect x="1055" y="0" width="25" height="19" fill="#f8f8f8" />
<rect x="1054" y="0" width="1" height="19" fill="#b0b0b0" />
<text x="891.8" y="12" font-size="10" fill="#3c3c3c" textLength="12.3" lengthAdjust="spacingAndGlyphs" shape-rendering="auto">M1</text>
<text x="919.9" y="12" font-size="10" fill="#3c3c3c" textLength="12.4" lengthAdjust="spacingAndGlyphs" shape-rendering="auto">M5</text>
<text x="945.7" y="12" font-size="10" fill="#3c3c3c" textLength="17.4" lengthAdjust="spacingAndGlyphs" shape-rendering="auto">M15</text>
<text x="973.9" y="12" font-size="10" fill="#3c3c3c" textLength="17.4" lengthAdjust="spacingAndGlyphs" shape-rendering="auto">M30</text>
<text x="1004.7" y="12" font-size="10" fill="#3c3c3c" textLength="11.5" lengthAdjust="spacingAndGlyphs" shape-rendering="auto">H1</text>
<text x="1032" y="12" font-size="10" fill="#3c3c3c" textLength="12" lengthAdjust="spacingAndGlyphs" shape-rendering="auto">H4</text>
<text x="1060.7" y="12" font-size="10" fill="#3c3c3c" textLength="11.3" lengthAdjust="spacingAndGlyphs" shape-rendering="auto">D1</text>
<text x="1087.9" y="12" font-size="10" fill="#3c3c3c" textLength="14.5" lengthAdjust="spacingAndGlyphs" shape-rendering="auto">W1</text>
<text x="1114.8" y="12" font-size="10" fill="#3c3c3c" textLength="13.9" lengthAdjust="spacingAndGlyphs" shape-rendering="auto">MN</text>
<rect x="1137" y="1" width="1" height="18" fill="#a0a0a0" />
<rect x="1138" y="1" width="1" height="18" fill="#fff" />
<g shape-rendering="auto">
<line x1="1604.5" y1="8.6" x2="1600.3" y2="12.6" stroke="#2a62d0" stroke-width="2.2" stroke-linecap="round"/>
<circle cx="1607.5" cy="5.6" r="3.8" fill="#f6f8fc" stroke="#2a62d0" stroke-width="1.3"/>
<path d="M1634 4.8 a6.4 4.8 0 1 1 9.5 4.4 l.6 2.2 l-2.8 -1.6 a6.4 4.8 0 0 1 -7.3 -5z" fill="#fafafc" stroke="#868686" stroke-width="1"/>
<path d="M1626.3 10 a5 3.9 0 1 1 3.4 3.7 l-2.2 1.6 l.4 -2.4 a5 3.9 0 0 1 -1.6 -2.9z" fill="#fbfbfd" stroke="#868686" stroke-width="1"/>
</g>
<defs><linearGradient id="gs" x1="0" y1="0" x2="0" y2="1"><stop offset="0" stop-color="#fb5050"/><stop offset="1" stop-color="#da2c2c"/></linearGradient><linearGradient id="gp" x1="0" y1="0" x2="0" y2="1"><stop offset="0" stop-color="#dc2e2e"/><stop offset=".5" stop-color="#c81616"/><stop offset="1" stop-color="#b00000"/></linearGradient><linearGradient id="gpu" gradientUnits="userSpaceOnUse" x1="0" y1="68" x2="0" y2="108"><stop offset="0" stop-color="#dc2e2e"/><stop offset=".5" stop-color="#c81616"/><stop offset="1" stop-color="#b00000"/></linearGradient><linearGradient id="gb" x1="0" y1="0" x2="0" y2="1"><stop offset="0" stop-color="#f4f4f4"/><stop offset="1" stop-color="#d0d0d0"/></linearGradient></defs>
<rect x="1" y="44" width="52" height="25" fill="url(#gs)" />
<rect x="168" y="44" width="52" height="25" fill="url(#gs)" />
<rect x="1" y="68" width="109" height="40" fill="url(#gp)" />
<rect x="112" y="68" width="108" height="40" fill="url(#gp)" />
<rect x="1" y="44" width="52" height="1" fill="#b40808" />
<rect x="1" y="44" width="1" height="64" fill="#b40808" />
<rect x="168" y="44" width="52" height="1" fill="#b40808" />
<rect x="219" y="44" width="1" height="64" fill="#b40808" />
<rect x="1" y="107" width="109" height="1" fill="#b40808" />
<rect x="112" y="107" width="108" height="1" fill="#b40808" />
<rect x="52" y="44" width="1" height="24" fill="#b40808" />
<rect x="168" y="44" width="1" height="24" fill="#b40808" />
<rect x="52" y="68" width="58" height="1" fill="#b40808" />
<rect x="112" y="68" width="57" height="1" fill="#b40808" />
<rect x="109" y="68" width="1" height="40" fill="#b40808" />
<rect x="112" y="68" width="1" height="40" fill="#b40808" />
<rect x="5" y="68" width="44" height="1" fill="#f08080" />
<rect x="172" y="68" width="44" height="1" fill="#f08080" />
<text x="13.1" y="59.8" font-size="12" fill="#fff" textLength="25.8" lengthAdjust="spacingAndGlyphs" shape-rendering="auto">SELL</text>
<text x="181.3" y="59.8" font-size="12" fill="#fff" textLength="23.2" lengthAdjust="spacingAndGlyphs" shape-rendering="auto">BUY</text>
<rect x="55" y="44" width="111" height="22" fill="#fff" stroke="#a8aeb8" stroke-width="1" shape-rendering="auto"/>
<rect x="56.5" y="45.5" width="19" height="19" fill="url(#gb)" stroke="#b8bcc4" stroke-width="1" shape-rendering="auto"/>
<rect x="144.5" y="45.5" width="20" height="19" fill="url(#gb)" stroke="#b8bcc4" stroke-width="1" shape-rendering="auto"/>
<polygon points="63,53 68,53 65.5,56" fill="#4a5ab0" shape-rendering="auto"/>
<polygon points="152,56 157,56 154.5,53" fill="#4a5ab0" shape-rendering="auto"/>
<text x="140.8" y="59" font-size="12" fill="#000" text-anchor="end" textLength="23.5" lengthAdjust="spacingAndGlyphs" shape-rendering="auto">1.00</text>
<text x="21.5" y="98.7" font-size="12" fill="#fff" textLength="23.5" lengthAdjust="spacingAndGlyphs" font-weight="bold" shape-rendering="auto">1.24</text>
<text x="48.8" y="98.9" font-size="33" fill="#fff" textLength="34.6" lengthAdjust="spacingAndGlyphs" shape-rendering="auto" stroke="url(#gpu)" stroke-width="0.45">84</text>
<text x="88" y="83" font-size="12" fill="#fff" textLength="7" lengthAdjust="spacingAndGlyphs" font-weight="bold" shape-rendering="auto">0</text>
<text x="131.6" y="98.7" font-size="12" fill="#fff" textLength="23.5" lengthAdjust="spacingAndGlyphs" font-weight="bold" shape-rendering="auto">1.24</text>
<text x="160.4" y="98.9" font-size="33" fill="#fff" textLength="34" lengthAdjust="spacingAndGlyphs" shape-rendering="auto" stroke="url(#gpu)" stroke-width="0.45">86</text>
<text x="199.5" y="83" font-size="12" fill="#fff" textLength="6.6" lengthAdjust="spacingAndGlyphs" font-weight="bold" shape-rendering="auto">2</text>
</svg>
</body></html>
